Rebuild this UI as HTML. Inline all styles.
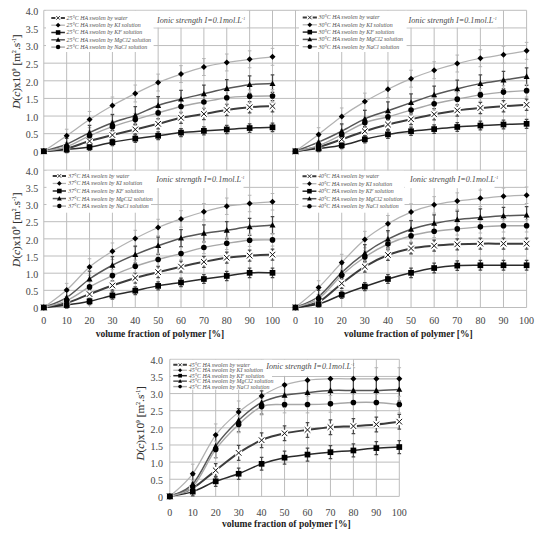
<!DOCTYPE html>
<html><head><meta charset="utf-8"><style>
html,body{margin:0;padding:0;background:#fff;width:550px;height:536px;overflow:hidden}
svg{display:block}
</style></head><body>
<svg width="550" height="536" viewBox="0 0 550 536">
<rect width="550" height="536" fill="#fff"/>
<line x1="43.8" y1="10.3" x2="526.6" y2="10.3" stroke="#bdbdbd" stroke-width="1"/>
<line x1="43.8" y1="27.93" x2="526.6" y2="27.93" stroke="#bdbdbd" stroke-width="1"/>
<line x1="43.8" y1="45.55" x2="526.6" y2="45.55" stroke="#bdbdbd" stroke-width="1"/>
<line x1="43.8" y1="63.17" x2="526.6" y2="63.17" stroke="#bdbdbd" stroke-width="1"/>
<line x1="43.8" y1="80.8" x2="526.6" y2="80.8" stroke="#bdbdbd" stroke-width="1"/>
<line x1="43.8" y1="98.42" x2="526.6" y2="98.42" stroke="#bdbdbd" stroke-width="1"/>
<line x1="43.8" y1="116.05" x2="526.6" y2="116.05" stroke="#bdbdbd" stroke-width="1"/>
<line x1="43.8" y1="133.68" x2="526.6" y2="133.68" stroke="#bdbdbd" stroke-width="1"/>
<line x1="43.8" y1="151.3" x2="526.6" y2="151.3" stroke="#bdbdbd" stroke-width="1"/>
<line x1="43.8" y1="170.2" x2="526.6" y2="170.2" stroke="#bdbdbd" stroke-width="1"/>
<line x1="43.8" y1="187.36" x2="526.6" y2="187.36" stroke="#bdbdbd" stroke-width="1"/>
<line x1="43.8" y1="204.52" x2="526.6" y2="204.52" stroke="#bdbdbd" stroke-width="1"/>
<line x1="43.8" y1="221.69" x2="526.6" y2="221.69" stroke="#bdbdbd" stroke-width="1"/>
<line x1="43.8" y1="238.85" x2="526.6" y2="238.85" stroke="#bdbdbd" stroke-width="1"/>
<line x1="43.8" y1="256.01" x2="526.6" y2="256.01" stroke="#bdbdbd" stroke-width="1"/>
<line x1="43.8" y1="273.18" x2="526.6" y2="273.18" stroke="#bdbdbd" stroke-width="1"/>
<line x1="43.8" y1="290.34" x2="526.6" y2="290.34" stroke="#bdbdbd" stroke-width="1"/>
<line x1="43.8" y1="307.5" x2="526.6" y2="307.5" stroke="#bdbdbd" stroke-width="1"/>
<line x1="43.8" y1="10.3" x2="43.8" y2="307.5" stroke="#bdbdbd" stroke-width="1"/>
<line x1="66.67" y1="10.3" x2="66.67" y2="307.5" stroke="#bdbdbd" stroke-width="1"/>
<line x1="89.54" y1="10.3" x2="89.54" y2="307.5" stroke="#bdbdbd" stroke-width="1"/>
<line x1="112.41" y1="10.3" x2="112.41" y2="307.5" stroke="#bdbdbd" stroke-width="1"/>
<line x1="135.28" y1="10.3" x2="135.28" y2="307.5" stroke="#bdbdbd" stroke-width="1"/>
<line x1="158.15" y1="10.3" x2="158.15" y2="307.5" stroke="#bdbdbd" stroke-width="1"/>
<line x1="181.02" y1="10.3" x2="181.02" y2="307.5" stroke="#bdbdbd" stroke-width="1"/>
<line x1="203.89" y1="10.3" x2="203.89" y2="307.5" stroke="#bdbdbd" stroke-width="1"/>
<line x1="226.76" y1="10.3" x2="226.76" y2="307.5" stroke="#bdbdbd" stroke-width="1"/>
<line x1="249.63" y1="10.3" x2="249.63" y2="307.5" stroke="#bdbdbd" stroke-width="1"/>
<line x1="272.5" y1="10.3" x2="272.5" y2="307.5" stroke="#bdbdbd" stroke-width="1"/>
<line x1="295.5" y1="10.3" x2="295.5" y2="307.5" stroke="#bdbdbd" stroke-width="1"/>
<line x1="318.61" y1="10.3" x2="318.61" y2="307.5" stroke="#bdbdbd" stroke-width="1"/>
<line x1="341.72" y1="10.3" x2="341.72" y2="307.5" stroke="#bdbdbd" stroke-width="1"/>
<line x1="364.83" y1="10.3" x2="364.83" y2="307.5" stroke="#bdbdbd" stroke-width="1"/>
<line x1="387.94" y1="10.3" x2="387.94" y2="307.5" stroke="#bdbdbd" stroke-width="1"/>
<line x1="411.05" y1="10.3" x2="411.05" y2="307.5" stroke="#bdbdbd" stroke-width="1"/>
<line x1="434.16" y1="10.3" x2="434.16" y2="307.5" stroke="#bdbdbd" stroke-width="1"/>
<line x1="457.27" y1="10.3" x2="457.27" y2="307.5" stroke="#bdbdbd" stroke-width="1"/>
<line x1="480.38" y1="10.3" x2="480.38" y2="307.5" stroke="#bdbdbd" stroke-width="1"/>
<line x1="503.49" y1="10.3" x2="503.49" y2="307.5" stroke="#bdbdbd" stroke-width="1"/>
<line x1="526.6" y1="10.3" x2="526.6" y2="307.5" stroke="#bdbdbd" stroke-width="1"/>
<line x1="169.8" y1="359.3" x2="399.3" y2="359.3" stroke="#bdbdbd" stroke-width="1"/>
<line x1="169.8" y1="376.44" x2="399.3" y2="376.44" stroke="#bdbdbd" stroke-width="1"/>
<line x1="169.8" y1="393.57" x2="399.3" y2="393.57" stroke="#bdbdbd" stroke-width="1"/>
<line x1="169.8" y1="410.71" x2="399.3" y2="410.71" stroke="#bdbdbd" stroke-width="1"/>
<line x1="169.8" y1="427.85" x2="399.3" y2="427.85" stroke="#bdbdbd" stroke-width="1"/>
<line x1="169.8" y1="444.99" x2="399.3" y2="444.99" stroke="#bdbdbd" stroke-width="1"/>
<line x1="169.8" y1="462.12" x2="399.3" y2="462.12" stroke="#bdbdbd" stroke-width="1"/>
<line x1="169.8" y1="479.26" x2="399.3" y2="479.26" stroke="#bdbdbd" stroke-width="1"/>
<line x1="169.8" y1="496.4" x2="399.3" y2="496.4" stroke="#bdbdbd" stroke-width="1"/>
<line x1="169.8" y1="359.3" x2="169.8" y2="496.4" stroke="#bdbdbd" stroke-width="1"/>
<line x1="192.75" y1="359.3" x2="192.75" y2="496.4" stroke="#bdbdbd" stroke-width="1"/>
<line x1="215.7" y1="359.3" x2="215.7" y2="496.4" stroke="#bdbdbd" stroke-width="1"/>
<line x1="238.65" y1="359.3" x2="238.65" y2="496.4" stroke="#bdbdbd" stroke-width="1"/>
<line x1="261.6" y1="359.3" x2="261.6" y2="496.4" stroke="#bdbdbd" stroke-width="1"/>
<line x1="284.55" y1="359.3" x2="284.55" y2="496.4" stroke="#bdbdbd" stroke-width="1"/>
<line x1="307.5" y1="359.3" x2="307.5" y2="496.4" stroke="#bdbdbd" stroke-width="1"/>
<line x1="330.45" y1="359.3" x2="330.45" y2="496.4" stroke="#bdbdbd" stroke-width="1"/>
<line x1="353.4" y1="359.3" x2="353.4" y2="496.4" stroke="#bdbdbd" stroke-width="1"/>
<line x1="376.35" y1="359.3" x2="376.35" y2="496.4" stroke="#bdbdbd" stroke-width="1"/>
<line x1="399.3" y1="359.3" x2="399.3" y2="496.4" stroke="#bdbdbd" stroke-width="1"/>
<path d="M43.8,151.3C47.61,150.83 59.05,150.18 66.67,148.48C74.29,146.78 81.92,143.31 89.54,141.08C97.16,138.85 104.79,137.02 112.41,135.09C120.03,133.15 127.66,131.33 135.28,129.45C142.9,127.57 150.53,125.74 158.15,123.81C165.77,121.87 173.4,119.46 181.02,117.81C188.64,116.17 196.27,115.23 203.89,113.94C211.51,112.64 219.14,111.17 226.76,110.06C234.38,108.94 242.01,107.88 249.63,107.24C257.25,106.59 268.69,106.36 272.5,106.18" fill="none" stroke="#3c3c3c" stroke-width="2.0"/>
<path d="M43.8,151.3C47.61,148.72 59.05,141.08 66.67,135.79C74.29,130.5 81.92,124.63 89.54,119.58C97.16,114.52 104.79,109.82 112.41,105.48C120.03,101.13 127.66,97.31 135.28,93.49C142.9,89.67 150.53,85.79 158.15,82.56C165.77,79.33 173.4,76.69 181.02,74.1C188.64,71.52 196.27,68.99 203.89,67.05C211.51,65.11 219.14,63.76 226.76,62.47C234.38,61.18 242.01,60.24 249.63,59.3C257.25,58.36 268.69,57.24 272.5,56.83" fill="none" stroke="#b2b2b2" stroke-width="1.25"/>
<path d="M43.8,151.3C47.61,151.01 59.05,150.24 66.67,149.54C74.29,148.83 81.92,148.3 89.54,147.07C97.16,145.84 104.79,143.55 112.41,142.14C120.03,140.73 127.66,139.67 135.28,138.61C142.9,137.55 150.53,136.79 158.15,135.79C165.77,134.79 173.4,133.44 181.02,132.62C188.64,131.8 196.27,131.38 203.89,130.86C211.51,130.33 219.14,129.92 226.76,129.45C234.38,128.98 242.01,128.39 249.63,128.04C257.25,127.68 268.69,127.45 272.5,127.33" fill="none" stroke="#2a2a2a" stroke-width="1.5"/>
<path d="M43.8,151.3C47.61,150.12 59.05,147.36 66.67,144.25C74.29,141.14 81.92,136.2 89.54,132.62C97.16,129.03 104.79,125.63 112.41,122.75C120.03,119.87 127.66,118.22 135.28,115.35C142.9,112.47 150.53,108.18 158.15,105.48C165.77,102.77 173.4,101.07 181.02,99.13C188.64,97.19 196.27,95.61 203.89,93.84C211.51,92.08 219.14,90.08 226.76,88.56C234.38,87.03 242.01,85.5 249.63,84.68C257.25,83.86 268.69,83.8 272.5,83.62" fill="none" stroke="#575757" stroke-width="1.5"/>
<path d="M43.8,151.3C47.61,150.54 59.05,149.3 66.67,146.72C74.29,144.13 81.92,139.14 89.54,135.79C97.16,132.44 104.79,129.33 112.41,126.63C120.03,123.92 127.66,121.87 135.28,119.58C142.9,117.28 150.53,115.05 158.15,112.88C165.77,110.7 173.4,108.35 181.02,106.53C188.64,104.71 196.27,103.42 203.89,101.95C211.51,100.48 219.14,98.66 226.76,97.72C234.38,96.78 242.01,96.6 249.63,96.31C257.25,96.02 268.69,96.02 272.5,95.96" fill="none" stroke="#a8a8a8" stroke-width="1.4"/>
<path d="M66.67,144.92V152.04M64.87,144.92H68.47M64.87,152.04H68.47" stroke="#4a4a4a" stroke-width="1.25" fill="none"/>
<path d="M89.54,137.04V145.12M87.74,137.04H91.34M87.74,145.12H91.34" stroke="#4a4a4a" stroke-width="1.25" fill="none"/>
<path d="M112.41,130.66V139.51M110.61,130.66H114.21M110.61,139.51H114.21" stroke="#4a4a4a" stroke-width="1.25" fill="none"/>
<path d="M135.28,124.66V134.23M133.48,124.66H137.08M133.48,134.23H137.08" stroke="#4a4a4a" stroke-width="1.25" fill="none"/>
<path d="M158.15,118.66V128.95M156.35,118.66H159.95M156.35,128.95H159.95" stroke="#4a4a4a" stroke-width="1.25" fill="none"/>
<path d="M181.02,112.29V123.34M179.22,112.29H182.82M179.22,123.34H182.82" stroke="#4a4a4a" stroke-width="1.25" fill="none"/>
<path d="M203.89,108.3V119.58M202.09,108.3H205.69M202.09,119.58H205.69" stroke="#4a4a4a" stroke-width="1.25" fill="none"/>
<path d="M226.76,104.42V115.7M224.96,104.42H228.56M224.96,115.7H228.56" stroke="#4a4a4a" stroke-width="1.25" fill="none"/>
<path d="M249.63,101.6V112.88M247.83,101.6H251.43M247.83,112.88H251.43" stroke="#4a4a4a" stroke-width="1.25" fill="none"/>
<path d="M272.5,100.54V111.82M270.7,100.54H274.3M270.7,111.82H274.3" stroke="#4a4a4a" stroke-width="1.25" fill="none"/>
<path d="M66.67,129.23V142.35M64.87,129.23H68.47M64.87,142.35H68.47" stroke="#b4b4b4" stroke-width="1.0" fill="none"/>
<path d="M89.54,111.45V127.7M87.74,111.45H91.34M87.74,127.7H91.34" stroke="#b4b4b4" stroke-width="1.0" fill="none"/>
<path d="M112.41,97.02V113.94M110.61,97.02H114.21M110.61,113.94H114.21" stroke="#b4b4b4" stroke-width="1.0" fill="none"/>
<path d="M135.28,85.03V101.95M133.48,85.03H137.08M133.48,101.95H137.08" stroke="#b4b4b4" stroke-width="1.0" fill="none"/>
<path d="M158.15,74.1V91.02M156.35,74.1H159.95M156.35,91.02H159.95" stroke="#b4b4b4" stroke-width="1.0" fill="none"/>
<path d="M181.02,65.64V82.56M179.22,65.64H182.82M179.22,82.56H182.82" stroke="#b4b4b4" stroke-width="1.0" fill="none"/>
<path d="M203.89,58.59V75.51M202.09,58.59H205.69M202.09,75.51H205.69" stroke="#b4b4b4" stroke-width="1.0" fill="none"/>
<path d="M226.76,54.01V70.93M224.96,54.01H228.56M224.96,70.93H228.56" stroke="#b4b4b4" stroke-width="1.0" fill="none"/>
<path d="M249.63,50.84V67.76M247.83,50.84H251.43M247.83,67.76H251.43" stroke="#b4b4b4" stroke-width="1.0" fill="none"/>
<path d="M272.5,48.37V65.29M270.7,48.37H274.3M270.7,65.29H274.3" stroke="#b4b4b4" stroke-width="1.0" fill="none"/>
<path d="M66.67,146.48V152.6M64.87,146.48H68.47M64.87,152.6H68.47" stroke="#4a4a4a" stroke-width="1.25" fill="none"/>
<path d="M89.54,143.87V150.27M87.74,143.87H91.34M87.74,150.27H91.34" stroke="#4a4a4a" stroke-width="1.25" fill="none"/>
<path d="M112.41,138.66V145.61M110.61,138.66H114.21M110.61,145.61H114.21" stroke="#4a4a4a" stroke-width="1.25" fill="none"/>
<path d="M135.28,134.94V142.28M133.48,134.94H137.08M133.48,142.28H137.08" stroke="#4a4a4a" stroke-width="1.25" fill="none"/>
<path d="M158.15,131.96V139.62M156.35,131.96H159.95M156.35,139.62H159.95" stroke="#4a4a4a" stroke-width="1.25" fill="none"/>
<path d="M181.02,128.61V136.62M179.22,128.61H182.82M179.22,136.62H182.82" stroke="#4a4a4a" stroke-width="1.25" fill="none"/>
<path d="M203.89,126.75V134.96M202.09,126.75H205.69M202.09,134.96H205.69" stroke="#4a4a4a" stroke-width="1.25" fill="none"/>
<path d="M226.76,125.26V133.63M224.96,125.26H228.56M224.96,133.63H228.56" stroke="#4a4a4a" stroke-width="1.25" fill="none"/>
<path d="M249.63,123.77V132.3M247.83,123.77H251.43M247.83,132.3H251.43" stroke="#4a4a4a" stroke-width="1.25" fill="none"/>
<path d="M272.5,123.03V131.63M270.7,123.03H274.3M270.7,131.63H274.3" stroke="#4a4a4a" stroke-width="1.25" fill="none"/>
<path d="M66.67,138.26V150.24M64.87,138.26H68.47M64.87,150.24H68.47" stroke="#4a4a4a" stroke-width="1.25" fill="none"/>
<path d="M89.54,125.46V139.77M87.74,125.46H91.34M87.74,139.77H91.34" stroke="#4a4a4a" stroke-width="1.25" fill="none"/>
<path d="M112.41,114.6V130.89M110.61,114.6H114.21M110.61,130.89H114.21" stroke="#4a4a4a" stroke-width="1.25" fill="none"/>
<path d="M135.28,106.53V124.16M133.48,106.53H137.08M133.48,124.16H137.08" stroke="#4a4a4a" stroke-width="1.25" fill="none"/>
<path d="M158.15,96.66V114.29M156.35,96.66H159.95M156.35,114.29H159.95" stroke="#4a4a4a" stroke-width="1.25" fill="none"/>
<path d="M181.02,90.32V107.94M179.22,90.32H182.82M179.22,107.94H182.82" stroke="#4a4a4a" stroke-width="1.25" fill="none"/>
<path d="M203.89,85.03V102.66M202.09,85.03H205.69M202.09,102.66H205.69" stroke="#4a4a4a" stroke-width="1.25" fill="none"/>
<path d="M226.76,79.74V97.37M224.96,79.74H228.56M224.96,97.37H228.56" stroke="#4a4a4a" stroke-width="1.25" fill="none"/>
<path d="M249.63,75.87V93.49M247.83,75.87H251.43M247.83,93.49H251.43" stroke="#4a4a4a" stroke-width="1.25" fill="none"/>
<path d="M272.5,74.81V92.43M270.7,74.81H274.3M270.7,92.43H274.3" stroke="#4a4a4a" stroke-width="1.25" fill="none"/>
<path d="M66.67,142.58V150.85M64.87,142.58H68.47M64.87,150.85H68.47" stroke="#b4b4b4" stroke-width="1.0" fill="none"/>
<path d="M89.54,130.87V140.71M87.74,130.87H91.34M87.74,140.71H91.34" stroke="#b4b4b4" stroke-width="1.0" fill="none"/>
<path d="M112.41,121.04V132.21M110.61,121.04H114.21M110.61,132.21H114.21" stroke="#b4b4b4" stroke-width="1.0" fill="none"/>
<path d="M135.28,113.48V125.67M133.48,113.48H137.08M133.48,125.67H137.08" stroke="#b4b4b4" stroke-width="1.0" fill="none"/>
<path d="M158.15,106.53V119.22M156.35,106.53H159.95M156.35,119.22H159.95" stroke="#b4b4b4" stroke-width="1.0" fill="none"/>
<path d="M181.02,100.19V112.88M179.22,100.19H182.82M179.22,112.88H182.82" stroke="#b4b4b4" stroke-width="1.0" fill="none"/>
<path d="M203.89,95.61V108.3M202.09,95.61H205.69M202.09,108.3H205.69" stroke="#b4b4b4" stroke-width="1.0" fill="none"/>
<path d="M226.76,91.38V104.07M224.96,91.38H228.56M224.96,104.07H228.56" stroke="#b4b4b4" stroke-width="1.0" fill="none"/>
<path d="M249.63,89.97V102.66M247.83,89.97H251.43M247.83,102.66H251.43" stroke="#b4b4b4" stroke-width="1.0" fill="none"/>
<path d="M272.5,89.61V102.3M270.7,89.61H274.3M270.7,102.3H274.3" stroke="#b4b4b4" stroke-width="1.0" fill="none"/>
<rect x="40.3" y="147.8" width="7" height="7" fill="#fff"/><path d="M41,148.5L46.6,154.1M41,154.1L46.6,148.5" stroke="#111" stroke-width="1.0" fill="none"/>
<rect x="63.17" y="144.98" width="7" height="7" fill="#fff"/><path d="M63.87,145.68L69.47,151.28M63.87,151.28L69.47,145.68" stroke="#111" stroke-width="1.0" fill="none"/>
<rect x="86.04" y="137.58" width="7" height="7" fill="#fff"/><path d="M86.74,138.28L92.34,143.88M86.74,143.88L92.34,138.28" stroke="#111" stroke-width="1.0" fill="none"/>
<rect x="108.91" y="131.59" width="7" height="7" fill="#fff"/><path d="M109.61,132.28L115.21,137.89M109.61,137.89L115.21,132.28" stroke="#111" stroke-width="1.0" fill="none"/>
<rect x="131.78" y="125.95" width="7" height="7" fill="#fff"/><path d="M132.48,126.65L138.08,132.25M132.48,132.25L138.08,126.65" stroke="#111" stroke-width="1.0" fill="none"/>
<rect x="154.65" y="120.31" width="7" height="7" fill="#fff"/><path d="M155.35,121.01L160.95,126.61M155.35,126.61L160.95,121.01" stroke="#111" stroke-width="1.0" fill="none"/>
<rect x="177.52" y="114.31" width="7" height="7" fill="#fff"/><path d="M178.22,115.01L183.82,120.61M178.22,120.61L183.82,115.01" stroke="#111" stroke-width="1.0" fill="none"/>
<rect x="200.39" y="110.44" width="7" height="7" fill="#fff"/><path d="M201.09,111.14L206.69,116.73M201.09,116.73L206.69,111.14" stroke="#111" stroke-width="1.0" fill="none"/>
<rect x="223.26" y="106.56" width="7" height="7" fill="#fff"/><path d="M223.96,107.26L229.56,112.86M223.96,112.86L229.56,107.26" stroke="#111" stroke-width="1.0" fill="none"/>
<rect x="246.13" y="103.74" width="7" height="7" fill="#fff"/><path d="M246.83,104.44L252.43,110.04M246.83,110.04L252.43,104.44" stroke="#111" stroke-width="1.0" fill="none"/>
<rect x="269" y="102.68" width="7" height="7" fill="#fff"/><path d="M269.7,103.38L275.3,108.98M269.7,108.98L275.3,103.38" stroke="#111" stroke-width="1.0" fill="none"/>
<path d="M43.8,148.3L46.8,151.3L43.8,154.3L40.8,151.3Z" fill="#000"/>
<path d="M66.67,132.79L69.67,135.79L66.67,138.79L63.67,135.79Z" fill="#000"/>
<path d="M89.54,116.58L92.54,119.58L89.54,122.58L86.54,119.58Z" fill="#000"/>
<path d="M112.41,102.48L115.41,105.48L112.41,108.48L109.41,105.48Z" fill="#000"/>
<path d="M135.28,90.49L138.28,93.49L135.28,96.49L132.28,93.49Z" fill="#000"/>
<path d="M158.15,79.56L161.15,82.56L158.15,85.56L155.15,82.56Z" fill="#000"/>
<path d="M181.02,71.1L184.02,74.1L181.02,77.1L178.02,74.1Z" fill="#000"/>
<path d="M203.89,64.05L206.89,67.05L203.89,70.05L200.89,67.05Z" fill="#000"/>
<path d="M226.76,59.47L229.76,62.47L226.76,65.47L223.76,62.47Z" fill="#000"/>
<path d="M249.63,56.3L252.63,59.3L249.63,62.3L246.63,59.3Z" fill="#000"/>
<path d="M272.5,53.83L275.5,56.83L272.5,59.83L269.5,56.83Z" fill="#000"/>
<rect x="40.95" y="148.45" width="5.7" height="5.7" fill="#000"/>
<rect x="63.82" y="146.69" width="5.7" height="5.7" fill="#000"/>
<rect x="86.69" y="144.22" width="5.7" height="5.7" fill="#000"/>
<rect x="109.56" y="139.29" width="5.7" height="5.7" fill="#000"/>
<rect x="132.43" y="135.76" width="5.7" height="5.7" fill="#000"/>
<rect x="155.3" y="132.94" width="5.7" height="5.7" fill="#000"/>
<rect x="178.17" y="129.77" width="5.7" height="5.7" fill="#000"/>
<rect x="201.04" y="128.01" width="5.7" height="5.7" fill="#000"/>
<rect x="223.91" y="126.6" width="5.7" height="5.7" fill="#000"/>
<rect x="246.78" y="125.19" width="5.7" height="5.7" fill="#000"/>
<rect x="269.65" y="124.48" width="5.7" height="5.7" fill="#000"/>
<path d="M43.8,148.1L46.8,153.7L40.8,153.7Z" fill="#000"/>
<path d="M66.67,141.05L69.67,146.65L63.67,146.65Z" fill="#000"/>
<path d="M89.54,129.42L92.54,135.02L86.54,135.02Z" fill="#000"/>
<path d="M112.41,119.55L115.41,125.15L109.41,125.15Z" fill="#000"/>
<path d="M135.28,112.15L138.28,117.75L132.28,117.75Z" fill="#000"/>
<path d="M158.15,102.28L161.15,107.88L155.15,107.88Z" fill="#000"/>
<path d="M181.02,95.93L184.02,101.53L178.02,101.53Z" fill="#000"/>
<path d="M203.89,90.64L206.89,96.24L200.89,96.24Z" fill="#000"/>
<path d="M226.76,85.36L229.76,90.96L223.76,90.96Z" fill="#000"/>
<path d="M249.63,81.48L252.63,87.08L246.63,87.08Z" fill="#000"/>
<path d="M272.5,80.42L275.5,86.02L269.5,86.02Z" fill="#000"/>
<circle cx="43.8" cy="151.3" r="2.8" fill="#000"/>
<circle cx="66.67" cy="146.72" r="2.8" fill="#000"/>
<circle cx="89.54" cy="135.79" r="2.8" fill="#000"/>
<circle cx="112.41" cy="126.63" r="2.8" fill="#000"/>
<circle cx="135.28" cy="119.58" r="2.8" fill="#000"/>
<circle cx="158.15" cy="112.88" r="2.8" fill="#000"/>
<circle cx="181.02" cy="106.53" r="2.8" fill="#000"/>
<circle cx="203.89" cy="101.95" r="2.8" fill="#000"/>
<circle cx="226.76" cy="97.72" r="2.8" fill="#000"/>
<circle cx="249.63" cy="96.31" r="2.8" fill="#000"/>
<circle cx="272.5" cy="95.96" r="2.8" fill="#000"/>
<path d="M295.5,151.3C299.35,150.6 310.91,149.07 318.61,147.07C326.31,145.07 334.02,141.96 341.72,139.31C349.42,136.67 357.13,133.68 364.83,131.21C372.53,128.74 380.24,126.51 387.94,124.51C395.64,122.51 403.35,120.93 411.05,119.22C418.75,117.52 426.46,115.76 434.16,114.29C441.86,112.82 449.57,111.47 457.27,110.41C464.97,109.35 472.68,108.65 480.38,107.94C488.08,107.24 495.79,106.71 503.49,106.18C511.19,105.65 522.75,105.01 526.6,104.77" fill="none" stroke="#3c3c3c" stroke-width="2.0"/>
<path d="M295.5,151.3C299.35,148.48 310.91,140.2 318.61,134.38C326.31,128.56 334.02,121.87 341.72,116.4C349.42,110.94 357.13,106.12 364.83,101.6C372.53,97.07 380.24,93.08 387.94,89.26C395.64,85.44 403.35,81.86 411.05,78.69C418.75,75.51 426.46,72.75 434.16,70.23C441.86,67.7 449.57,65.53 457.27,63.53C464.97,61.53 472.68,59.71 480.38,58.24C488.08,56.77 495.79,55.95 503.49,54.72C511.19,53.48 522.75,51.48 526.6,50.84" fill="none" stroke="#b2b2b2" stroke-width="1.25"/>
<path d="M295.5,151.3C299.35,150.83 310.91,149.48 318.61,148.48C326.31,147.48 334.02,146.84 341.72,145.31C349.42,143.78 357.13,141.14 364.83,139.31C372.53,137.49 380.24,135.73 387.94,134.38C395.64,133.03 403.35,132.09 411.05,131.21C418.75,130.33 426.46,129.8 434.16,129.09C441.86,128.39 449.57,127.57 457.27,126.98C464.97,126.39 472.68,125.98 480.38,125.57C488.08,125.16 495.79,124.8 503.49,124.51C511.19,124.22 522.75,123.92 526.6,123.81" fill="none" stroke="#2a2a2a" stroke-width="1.5"/>
<path d="M295.5,151.3C299.35,149.77 310.91,145.48 318.61,142.14C326.31,138.79 334.02,135.09 341.72,131.21C349.42,127.33 357.13,122.28 364.83,118.87C372.53,115.46 380.24,113.47 387.94,110.76C395.64,108.06 403.35,105.3 411.05,102.66C418.75,100.01 426.46,97.19 434.16,94.9C441.86,92.61 449.57,90.79 457.27,88.91C464.97,87.03 472.68,85.09 480.38,83.62C488.08,82.15 495.79,81.27 503.49,80.1C511.19,78.92 522.75,77.16 526.6,76.57" fill="none" stroke="#575757" stroke-width="1.5"/>
<path d="M295.5,151.3C299.35,150.36 310.91,148.42 318.61,145.66C326.31,142.9 334.02,138.55 341.72,134.73C349.42,130.91 357.13,125.74 364.83,122.75C372.53,119.75 380.24,118.87 387.94,116.76C395.64,114.64 403.35,112.23 411.05,110.06C418.75,107.88 426.46,105.53 434.16,103.71C441.86,101.89 449.57,100.6 457.27,99.13C464.97,97.66 472.68,96.08 480.38,94.9C488.08,93.73 495.79,92.79 503.49,92.08C511.19,91.38 522.75,90.91 526.6,90.67" fill="none" stroke="#a8a8a8" stroke-width="1.4"/>
<path d="M318.61,143.42V150.72M316.81,143.42H320.41M316.81,150.72H320.41" stroke="#4a4a4a" stroke-width="1.25" fill="none"/>
<path d="M341.72,135.16V143.47M339.92,135.16H343.52M339.92,143.47H343.52" stroke="#4a4a4a" stroke-width="1.25" fill="none"/>
<path d="M364.83,126.54V135.88M363.03,126.54H366.63M363.03,135.88H366.63" stroke="#4a4a4a" stroke-width="1.25" fill="none"/>
<path d="M387.94,119.41V129.61M386.14,119.41H389.74M386.14,129.61H389.74" stroke="#4a4a4a" stroke-width="1.25" fill="none"/>
<path d="M411.05,113.79V124.66M409.25,113.79H412.85M409.25,124.66H412.85" stroke="#4a4a4a" stroke-width="1.25" fill="none"/>
<path d="M434.16,108.65V119.93M432.36,108.65H435.96M432.36,119.93H435.96" stroke="#4a4a4a" stroke-width="1.25" fill="none"/>
<path d="M457.27,104.77V116.05M455.47,104.77H459.07M455.47,116.05H459.07" stroke="#4a4a4a" stroke-width="1.25" fill="none"/>
<path d="M480.38,102.3V113.58M478.58,102.3H482.18M478.58,113.58H482.18" stroke="#4a4a4a" stroke-width="1.25" fill="none"/>
<path d="M503.49,100.54V111.82M501.69,100.54H505.29M501.69,111.82H505.29" stroke="#4a4a4a" stroke-width="1.25" fill="none"/>
<path d="M526.6,99.13V110.41M524.8,99.13H528.4M524.8,110.41H528.4" stroke="#4a4a4a" stroke-width="1.25" fill="none"/>
<path d="M318.61,127.68V141.08M316.81,127.68H320.41M316.81,141.08H320.41" stroke="#b4b4b4" stroke-width="1.0" fill="none"/>
<path d="M341.72,107.98V124.83M339.92,107.98H343.52M339.92,124.83H343.52" stroke="#b4b4b4" stroke-width="1.0" fill="none"/>
<path d="M364.83,93.14V110.06M363.03,93.14H366.63M363.03,110.06H366.63" stroke="#b4b4b4" stroke-width="1.0" fill="none"/>
<path d="M387.94,80.8V97.72M386.14,80.8H389.74M386.14,97.72H389.74" stroke="#b4b4b4" stroke-width="1.0" fill="none"/>
<path d="M411.05,70.23V87.15M409.25,70.23H412.85M409.25,87.15H412.85" stroke="#b4b4b4" stroke-width="1.0" fill="none"/>
<path d="M434.16,61.77V78.69M432.36,61.77H435.96M432.36,78.69H435.96" stroke="#b4b4b4" stroke-width="1.0" fill="none"/>
<path d="M457.27,55.07V71.99M455.47,55.07H459.07M455.47,71.99H459.07" stroke="#b4b4b4" stroke-width="1.0" fill="none"/>
<path d="M480.38,49.78V66.7M478.58,49.78H482.18M478.58,66.7H482.18" stroke="#b4b4b4" stroke-width="1.0" fill="none"/>
<path d="M503.49,46.25V63.18M501.69,46.25H505.29M501.69,63.18H505.29" stroke="#b4b4b4" stroke-width="1.0" fill="none"/>
<path d="M526.6,42.38V59.3M524.8,42.38H528.4M524.8,59.3H528.4" stroke="#b4b4b4" stroke-width="1.0" fill="none"/>
<path d="M318.61,145.36V151.6M316.81,145.36H320.41M316.81,151.6H320.41" stroke="#4a4a4a" stroke-width="1.25" fill="none"/>
<path d="M341.72,142.01V148.6M339.92,142.01H343.52M339.92,148.6H343.52" stroke="#4a4a4a" stroke-width="1.25" fill="none"/>
<path d="M364.83,135.68V142.95M363.03,135.68H366.63M363.03,142.95H366.63" stroke="#4a4a4a" stroke-width="1.25" fill="none"/>
<path d="M387.94,130.47V138.29M386.14,130.47H389.74M386.14,138.29H389.74" stroke="#4a4a4a" stroke-width="1.25" fill="none"/>
<path d="M411.05,127.12V135.29M409.25,127.12H412.85M409.25,135.29H412.85" stroke="#4a4a4a" stroke-width="1.25" fill="none"/>
<path d="M434.16,124.89V133.3M432.36,124.89H435.96M432.36,133.3H435.96" stroke="#4a4a4a" stroke-width="1.25" fill="none"/>
<path d="M457.27,122.65V131.3M455.47,122.65H459.07M455.47,131.3H459.07" stroke="#4a4a4a" stroke-width="1.25" fill="none"/>
<path d="M480.38,121.17V129.97M478.58,121.17H482.18M478.58,129.97H482.18" stroke="#4a4a4a" stroke-width="1.25" fill="none"/>
<path d="M503.49,120.05V128.97M501.69,120.05H505.29M501.69,128.97H505.29" stroke="#4a4a4a" stroke-width="1.25" fill="none"/>
<path d="M526.6,119.3V128.31M524.8,119.3H528.4M524.8,128.31H528.4" stroke="#4a4a4a" stroke-width="1.25" fill="none"/>
<path d="M318.61,135.93V148.34M316.81,135.93H320.41M316.81,148.34H320.41" stroke="#4a4a4a" stroke-width="1.25" fill="none"/>
<path d="M341.72,123.91V138.5M339.92,123.91H343.52M339.92,138.5H343.52" stroke="#4a4a4a" stroke-width="1.25" fill="none"/>
<path d="M364.83,110.34V127.4M363.03,110.34H366.63M363.03,127.4H366.63" stroke="#4a4a4a" stroke-width="1.25" fill="none"/>
<path d="M387.94,101.95V119.58M386.14,101.95H389.74M386.14,119.58H389.74" stroke="#4a4a4a" stroke-width="1.25" fill="none"/>
<path d="M411.05,93.84V111.47M409.25,93.84H412.85M409.25,111.47H412.85" stroke="#4a4a4a" stroke-width="1.25" fill="none"/>
<path d="M434.16,86.09V103.71M432.36,86.09H435.96M432.36,103.71H435.96" stroke="#4a4a4a" stroke-width="1.25" fill="none"/>
<path d="M457.27,80.1V97.72M455.47,80.1H459.07M455.47,97.72H459.07" stroke="#4a4a4a" stroke-width="1.25" fill="none"/>
<path d="M480.38,74.81V92.43M478.58,74.81H482.18M478.58,92.43H482.18" stroke="#4a4a4a" stroke-width="1.25" fill="none"/>
<path d="M503.49,71.28V88.91M501.69,71.28H505.29M501.69,88.91H505.29" stroke="#4a4a4a" stroke-width="1.25" fill="none"/>
<path d="M526.6,67.76V85.38M524.8,67.76H528.4M524.8,85.38H528.4" stroke="#4a4a4a" stroke-width="1.25" fill="none"/>
<path d="M318.61,141.45V149.87M316.81,141.45H320.41M316.81,149.87H320.41" stroke="#b4b4b4" stroke-width="1.0" fill="none"/>
<path d="M341.72,129.73V139.73M339.92,129.73H343.52M339.92,139.73H343.52" stroke="#b4b4b4" stroke-width="1.0" fill="none"/>
<path d="M364.83,116.88V128.61M363.03,116.88H366.63M363.03,128.61H366.63" stroke="#b4b4b4" stroke-width="1.0" fill="none"/>
<path d="M387.94,110.46V123.05M386.14,110.46H389.74M386.14,123.05H389.74" stroke="#b4b4b4" stroke-width="1.0" fill="none"/>
<path d="M411.05,103.71V116.4M409.25,103.71H412.85M409.25,116.4H412.85" stroke="#b4b4b4" stroke-width="1.0" fill="none"/>
<path d="M434.16,97.37V110.06M432.36,97.37H435.96M432.36,110.06H435.96" stroke="#b4b4b4" stroke-width="1.0" fill="none"/>
<path d="M457.27,92.79V105.48M455.47,92.79H459.07M455.47,105.48H459.07" stroke="#b4b4b4" stroke-width="1.0" fill="none"/>
<path d="M480.38,88.56V101.25M478.58,88.56H482.18M478.58,101.25H482.18" stroke="#b4b4b4" stroke-width="1.0" fill="none"/>
<path d="M503.49,85.74V98.43M501.69,85.74H505.29M501.69,98.43H505.29" stroke="#b4b4b4" stroke-width="1.0" fill="none"/>
<path d="M526.6,84.33V97.02M524.8,84.33H528.4M524.8,97.02H528.4" stroke="#b4b4b4" stroke-width="1.0" fill="none"/>
<rect x="292" y="147.8" width="7" height="7" fill="#fff"/><path d="M292.7,148.5L298.3,154.1M292.7,154.1L298.3,148.5" stroke="#111" stroke-width="1.0" fill="none"/>
<rect x="315.11" y="143.57" width="7" height="7" fill="#fff"/><path d="M315.81,144.27L321.41,149.87M315.81,149.87L321.41,144.27" stroke="#111" stroke-width="1.0" fill="none"/>
<rect x="338.22" y="135.81" width="7" height="7" fill="#fff"/><path d="M338.92,136.51L344.52,142.12M338.92,142.12L344.52,136.51" stroke="#111" stroke-width="1.0" fill="none"/>
<rect x="361.33" y="127.71" width="7" height="7" fill="#fff"/><path d="M362.03,128.41L367.63,134.01M362.03,134.01L367.63,128.41" stroke="#111" stroke-width="1.0" fill="none"/>
<rect x="384.44" y="121.01" width="7" height="7" fill="#fff"/><path d="M385.14,121.71L390.74,127.31M385.14,127.31L390.74,121.71" stroke="#111" stroke-width="1.0" fill="none"/>
<rect x="407.55" y="115.72" width="7" height="7" fill="#fff"/><path d="M408.25,116.42L413.85,122.02M408.25,122.02L413.85,116.42" stroke="#111" stroke-width="1.0" fill="none"/>
<rect x="430.66" y="110.79" width="7" height="7" fill="#fff"/><path d="M431.36,111.49L436.96,117.09M431.36,117.09L436.96,111.49" stroke="#111" stroke-width="1.0" fill="none"/>
<rect x="453.77" y="106.91" width="7" height="7" fill="#fff"/><path d="M454.47,107.61L460.07,113.21M454.47,113.21L460.07,107.61" stroke="#111" stroke-width="1.0" fill="none"/>
<rect x="476.88" y="104.44" width="7" height="7" fill="#fff"/><path d="M477.58,105.14L483.18,110.74M477.58,110.74L483.18,105.14" stroke="#111" stroke-width="1.0" fill="none"/>
<rect x="499.99" y="102.68" width="7" height="7" fill="#fff"/><path d="M500.69,103.38L506.29,108.98M500.69,108.98L506.29,103.38" stroke="#111" stroke-width="1.0" fill="none"/>
<rect x="523.1" y="101.27" width="7" height="7" fill="#fff"/><path d="M523.8,101.97L529.4,107.57M523.8,107.57L529.4,101.97" stroke="#111" stroke-width="1.0" fill="none"/>
<path d="M295.5,148.3L298.5,151.3L295.5,154.3L292.5,151.3Z" fill="#000"/>
<path d="M318.61,131.38L321.61,134.38L318.61,137.38L315.61,134.38Z" fill="#000"/>
<path d="M341.72,113.4L344.72,116.4L341.72,119.4L338.72,116.4Z" fill="#000"/>
<path d="M364.83,98.6L367.83,101.6L364.83,104.6L361.83,101.6Z" fill="#000"/>
<path d="M387.94,86.26L390.94,89.26L387.94,92.26L384.94,89.26Z" fill="#000"/>
<path d="M411.05,75.69L414.05,78.69L411.05,81.69L408.05,78.69Z" fill="#000"/>
<path d="M434.16,67.23L437.16,70.23L434.16,73.23L431.16,70.23Z" fill="#000"/>
<path d="M457.27,60.53L460.27,63.53L457.27,66.53L454.27,63.53Z" fill="#000"/>
<path d="M480.38,55.24L483.38,58.24L480.38,61.24L477.38,58.24Z" fill="#000"/>
<path d="M503.49,51.72L506.49,54.72L503.49,57.72L500.49,54.72Z" fill="#000"/>
<path d="M526.6,47.84L529.6,50.84L526.6,53.84L523.6,50.84Z" fill="#000"/>
<rect x="292.65" y="148.45" width="5.7" height="5.7" fill="#000"/>
<rect x="315.76" y="145.63" width="5.7" height="5.7" fill="#000"/>
<rect x="338.87" y="142.46" width="5.7" height="5.7" fill="#000"/>
<rect x="361.98" y="136.47" width="5.7" height="5.7" fill="#000"/>
<rect x="385.09" y="131.53" width="5.7" height="5.7" fill="#000"/>
<rect x="408.2" y="128.36" width="5.7" height="5.7" fill="#000"/>
<rect x="431.31" y="126.24" width="5.7" height="5.7" fill="#000"/>
<rect x="454.42" y="124.13" width="5.7" height="5.7" fill="#000"/>
<rect x="477.53" y="122.72" width="5.7" height="5.7" fill="#000"/>
<rect x="500.64" y="121.66" width="5.7" height="5.7" fill="#000"/>
<rect x="523.75" y="120.96" width="5.7" height="5.7" fill="#000"/>
<path d="M295.5,148.1L298.5,153.7L292.5,153.7Z" fill="#000"/>
<path d="M318.61,138.94L321.61,144.54L315.61,144.54Z" fill="#000"/>
<path d="M341.72,128.01L344.72,133.61L338.72,133.61Z" fill="#000"/>
<path d="M364.83,115.67L367.83,121.27L361.83,121.27Z" fill="#000"/>
<path d="M387.94,107.56L390.94,113.16L384.94,113.16Z" fill="#000"/>
<path d="M411.05,99.46L414.05,105.06L408.05,105.06Z" fill="#000"/>
<path d="M434.16,91.7L437.16,97.3L431.16,97.3Z" fill="#000"/>
<path d="M457.27,85.71L460.27,91.31L454.27,91.31Z" fill="#000"/>
<path d="M480.38,80.42L483.38,86.02L477.38,86.02Z" fill="#000"/>
<path d="M503.49,76.9L506.49,82.5L500.49,82.5Z" fill="#000"/>
<path d="M526.6,73.37L529.6,78.97L523.6,78.97Z" fill="#000"/>
<circle cx="295.5" cy="151.3" r="2.8" fill="#000"/>
<circle cx="318.61" cy="145.66" r="2.8" fill="#000"/>
<circle cx="341.72" cy="134.73" r="2.8" fill="#000"/>
<circle cx="364.83" cy="122.75" r="2.8" fill="#000"/>
<circle cx="387.94" cy="116.76" r="2.8" fill="#000"/>
<circle cx="411.05" cy="110.06" r="2.8" fill="#000"/>
<circle cx="434.16" cy="103.71" r="2.8" fill="#000"/>
<circle cx="457.27" cy="99.13" r="2.8" fill="#000"/>
<circle cx="480.38" cy="94.9" r="2.8" fill="#000"/>
<circle cx="503.49" cy="92.08" r="2.8" fill="#000"/>
<circle cx="526.6" cy="90.67" r="2.8" fill="#000"/>
<path d="M43.8,307.5C47.61,306.76 59.05,305.27 66.67,303.04C74.29,300.81 81.92,297.03 89.54,294.11C97.16,291.2 104.79,288.22 112.41,285.53C120.03,282.84 127.66,280.21 135.28,277.98C142.9,275.75 150.53,274.03 158.15,272.15C165.77,270.26 173.4,268.37 181.02,266.65C188.64,264.94 196.27,263.34 203.89,261.85C211.51,260.36 219.14,258.76 226.76,257.73C234.38,256.7 242.01,256.18 249.63,255.67C257.25,255.15 268.69,254.81 272.5,254.64" fill="none" stroke="#3c3c3c" stroke-width="2.0"/>
<path d="M43.8,307.5C47.61,304.58 59.05,296.74 66.67,289.99C74.29,283.24 81.92,273.46 89.54,267C97.16,260.53 104.79,255.96 112.41,251.21C120.03,246.46 127.66,242.45 135.28,238.51C142.9,234.56 150.53,230.78 158.15,227.52C165.77,224.26 173.4,221.57 181.02,218.94C188.64,216.31 196.27,213.85 203.89,211.73C211.51,209.62 219.14,207.61 226.76,206.24C234.38,204.87 242.01,204.24 249.63,203.5C257.25,202.75 268.69,202.07 272.5,201.78" fill="none" stroke="#b2b2b2" stroke-width="1.25"/>
<path d="M43.8,307.5C47.61,307.1 59.05,306.13 66.67,305.1C74.29,304.07 81.92,302.92 89.54,301.32C97.16,299.72 104.79,297.26 112.41,295.49C120.03,293.71 127.66,292.28 135.28,290.68C142.9,289.08 150.53,287.25 158.15,285.88C165.77,284.5 173.4,283.59 181.02,282.44C188.64,281.3 196.27,280.1 203.89,279.01C211.51,277.92 219.14,276.95 226.76,275.92C234.38,274.89 242.01,273.35 249.63,272.83C257.25,272.32 268.69,272.83 272.5,272.83" fill="none" stroke="#2a2a2a" stroke-width="1.5"/>
<path d="M43.8,307.5C47.61,305.84 59.05,302.29 66.67,297.55C74.29,292.8 81.92,284.39 89.54,279.01C97.16,273.63 104.79,269.34 112.41,265.28C120.03,261.22 127.66,257.9 135.28,254.64C142.9,251.38 150.53,248.46 158.15,245.72C165.77,242.97 173.4,240.22 181.02,238.16C188.64,236.1 196.27,234.67 203.89,233.36C211.51,232.04 219.14,231.36 226.76,230.27C234.38,229.18 242.01,227.69 249.63,226.84C257.25,225.98 268.69,225.41 272.5,225.12" fill="none" stroke="#575757" stroke-width="1.5"/>
<path d="M43.8,307.5C47.61,306.36 59.05,304.07 66.67,300.63C74.29,297.2 81.92,291.08 89.54,286.9C97.16,282.73 104.79,279.01 112.41,275.58C120.03,272.15 127.66,269 135.28,266.31C142.9,263.62 150.53,261.56 158.15,259.44C165.77,257.33 173.4,255.61 181.02,253.61C188.64,251.61 196.27,249.15 203.89,247.43C211.51,245.71 219.14,244.51 226.76,243.31C234.38,242.11 242.01,240.8 249.63,240.22C257.25,239.65 268.69,239.94 272.5,239.88" fill="none" stroke="#a8a8a8" stroke-width="1.4"/>
<path d="M66.67,299.46V306.62M64.87,299.46H68.47M64.87,306.62H68.47" stroke="#4a4a4a" stroke-width="1.25" fill="none"/>
<path d="M89.54,289.96V298.27M87.74,289.96H91.34M87.74,298.27H91.34" stroke="#4a4a4a" stroke-width="1.25" fill="none"/>
<path d="M112.41,280.83V290.23M110.61,280.83H114.21M110.61,290.23H114.21" stroke="#4a4a4a" stroke-width="1.25" fill="none"/>
<path d="M135.28,272.8V283.16M133.48,272.8H137.08M133.48,283.16H137.08" stroke="#4a4a4a" stroke-width="1.25" fill="none"/>
<path d="M158.15,266.65V277.64M156.35,266.65H159.95M156.35,277.64H159.95" stroke="#4a4a4a" stroke-width="1.25" fill="none"/>
<path d="M181.02,261.16V272.15M179.22,261.16H182.82M179.22,272.15H182.82" stroke="#4a4a4a" stroke-width="1.25" fill="none"/>
<path d="M203.89,256.36V267.34M202.09,256.36H205.69M202.09,267.34H205.69" stroke="#4a4a4a" stroke-width="1.25" fill="none"/>
<path d="M226.76,252.24V263.22M224.96,252.24H228.56M224.96,263.22H228.56" stroke="#4a4a4a" stroke-width="1.25" fill="none"/>
<path d="M249.63,250.18V261.16M247.83,250.18H251.43M247.83,261.16H251.43" stroke="#4a4a4a" stroke-width="1.25" fill="none"/>
<path d="M272.5,249.15V260.13M270.7,249.15H274.3M270.7,260.13H274.3" stroke="#4a4a4a" stroke-width="1.25" fill="none"/>
<path d="M66.67,283.37V296.62M64.87,283.37H68.47M64.87,296.62H68.47" stroke="#b4b4b4" stroke-width="1.0" fill="none"/>
<path d="M89.54,258.76V275.23M87.74,258.76H91.34M87.74,275.23H91.34" stroke="#b4b4b4" stroke-width="1.0" fill="none"/>
<path d="M112.41,242.97V259.44M110.61,242.97H114.21M110.61,259.44H114.21" stroke="#b4b4b4" stroke-width="1.0" fill="none"/>
<path d="M135.28,230.27V246.74M133.48,230.27H137.08M133.48,246.74H137.08" stroke="#b4b4b4" stroke-width="1.0" fill="none"/>
<path d="M158.15,219.28V235.76M156.35,219.28H159.95M156.35,235.76H159.95" stroke="#b4b4b4" stroke-width="1.0" fill="none"/>
<path d="M181.02,210.7V227.18M179.22,210.7H182.82M179.22,227.18H182.82" stroke="#b4b4b4" stroke-width="1.0" fill="none"/>
<path d="M203.89,203.5V219.97M202.09,203.5H205.69M202.09,219.97H205.69" stroke="#b4b4b4" stroke-width="1.0" fill="none"/>
<path d="M226.76,198V214.48M224.96,198H228.56M224.96,214.48H228.56" stroke="#b4b4b4" stroke-width="1.0" fill="none"/>
<path d="M249.63,195.26V211.73M247.83,195.26H251.43M247.83,211.73H251.43" stroke="#b4b4b4" stroke-width="1.0" fill="none"/>
<path d="M272.5,193.54V210.02M270.7,193.54H274.3M270.7,210.02H274.3" stroke="#b4b4b4" stroke-width="1.0" fill="none"/>
<path d="M66.67,302.08V308.12M64.87,302.08H68.47M64.87,308.12H68.47" stroke="#4a4a4a" stroke-width="1.25" fill="none"/>
<path d="M89.54,298.09V304.55M87.74,298.09H91.34M87.74,304.55H91.34" stroke="#4a4a4a" stroke-width="1.25" fill="none"/>
<path d="M112.41,291.93V299.04M110.61,291.93H114.21M110.61,299.04H114.21" stroke="#4a4a4a" stroke-width="1.25" fill="none"/>
<path d="M135.28,286.86V294.51M133.48,286.86H137.08M133.48,294.51H137.08" stroke="#4a4a4a" stroke-width="1.25" fill="none"/>
<path d="M158.15,281.78V289.97M156.35,281.78H159.95M156.35,289.97H159.95" stroke="#4a4a4a" stroke-width="1.25" fill="none"/>
<path d="M181.02,278.16V286.73M179.22,278.16H182.82M179.22,286.73H182.82" stroke="#4a4a4a" stroke-width="1.25" fill="none"/>
<path d="M203.89,274.53V283.49M202.09,274.53H205.69M202.09,283.49H205.69" stroke="#4a4a4a" stroke-width="1.25" fill="none"/>
<path d="M226.76,271.27V280.57M224.96,271.27H228.56M224.96,280.57H228.56" stroke="#4a4a4a" stroke-width="1.25" fill="none"/>
<path d="M249.63,268.03V277.64M247.83,268.03H251.43M247.83,277.64H251.43" stroke="#4a4a4a" stroke-width="1.25" fill="none"/>
<path d="M272.5,268.03V277.64M270.7,268.03H274.3M270.7,277.64H274.3" stroke="#4a4a4a" stroke-width="1.25" fill="none"/>
<path d="M66.67,291.4V303.69M64.87,291.4H68.47M64.87,303.69H68.47" stroke="#4a4a4a" stroke-width="1.25" fill="none"/>
<path d="M89.54,271.01V287.01M87.74,271.01H91.34M87.74,287.01H91.34" stroke="#4a4a4a" stroke-width="1.25" fill="none"/>
<path d="M112.41,256.7V273.86M110.61,256.7H114.21M110.61,273.86H114.21" stroke="#4a4a4a" stroke-width="1.25" fill="none"/>
<path d="M135.28,246.06V263.22M133.48,246.06H137.08M133.48,263.22H137.08" stroke="#4a4a4a" stroke-width="1.25" fill="none"/>
<path d="M158.15,237.13V254.3M156.35,237.13H159.95M156.35,254.3H159.95" stroke="#4a4a4a" stroke-width="1.25" fill="none"/>
<path d="M181.02,229.58V246.74M179.22,229.58H182.82M179.22,246.74H182.82" stroke="#4a4a4a" stroke-width="1.25" fill="none"/>
<path d="M203.89,224.78V241.94M202.09,224.78H205.69M202.09,241.94H205.69" stroke="#4a4a4a" stroke-width="1.25" fill="none"/>
<path d="M226.76,221.69V238.85M224.96,221.69H228.56M224.96,238.85H228.56" stroke="#4a4a4a" stroke-width="1.25" fill="none"/>
<path d="M249.63,218.25V235.42M247.83,218.25H251.43M247.83,235.42H251.43" stroke="#4a4a4a" stroke-width="1.25" fill="none"/>
<path d="M272.5,216.54V233.7M270.7,216.54H274.3M270.7,233.7H274.3" stroke="#4a4a4a" stroke-width="1.25" fill="none"/>
<path d="M66.67,296.43V304.84M64.87,296.43H68.47M64.87,304.84H68.47" stroke="#b4b4b4" stroke-width="1.0" fill="none"/>
<path d="M89.54,281.72V292.09M87.74,281.72H91.34M87.74,292.09H91.34" stroke="#b4b4b4" stroke-width="1.0" fill="none"/>
<path d="M112.41,269.57V281.58M110.61,269.57H114.21M110.61,281.58H114.21" stroke="#b4b4b4" stroke-width="1.0" fill="none"/>
<path d="M135.28,260.13V272.49M133.48,260.13H137.08M133.48,272.49H137.08" stroke="#b4b4b4" stroke-width="1.0" fill="none"/>
<path d="M158.15,253.27V265.62M156.35,253.27H159.95M156.35,265.62H159.95" stroke="#b4b4b4" stroke-width="1.0" fill="none"/>
<path d="M181.02,247.43V259.79M179.22,247.43H182.82M179.22,259.79H182.82" stroke="#b4b4b4" stroke-width="1.0" fill="none"/>
<path d="M203.89,241.25V253.61M202.09,241.25H205.69M202.09,253.61H205.69" stroke="#b4b4b4" stroke-width="1.0" fill="none"/>
<path d="M226.76,237.13V249.49M224.96,237.13H228.56M224.96,249.49H228.56" stroke="#b4b4b4" stroke-width="1.0" fill="none"/>
<path d="M249.63,234.04V246.4M247.83,234.04H251.43M247.83,246.4H251.43" stroke="#b4b4b4" stroke-width="1.0" fill="none"/>
<path d="M272.5,233.7V246.06M270.7,233.7H274.3M270.7,246.06H274.3" stroke="#b4b4b4" stroke-width="1.0" fill="none"/>
<rect x="40.3" y="304" width="7" height="7" fill="#fff"/><path d="M41,304.7L46.6,310.3M41,310.3L46.6,304.7" stroke="#111" stroke-width="1.0" fill="none"/>
<rect x="63.17" y="299.54" width="7" height="7" fill="#fff"/><path d="M63.87,300.24L69.47,305.84M63.87,305.84L69.47,300.24" stroke="#111" stroke-width="1.0" fill="none"/>
<rect x="86.04" y="290.61" width="7" height="7" fill="#fff"/><path d="M86.74,291.31L92.34,296.91M86.74,296.91L92.34,291.31" stroke="#111" stroke-width="1.0" fill="none"/>
<rect x="108.91" y="282.03" width="7" height="7" fill="#fff"/><path d="M109.61,282.73L115.21,288.33M109.61,288.33L115.21,282.73" stroke="#111" stroke-width="1.0" fill="none"/>
<rect x="131.78" y="274.48" width="7" height="7" fill="#fff"/><path d="M132.48,275.18L138.08,280.78M132.48,280.78L138.08,275.18" stroke="#111" stroke-width="1.0" fill="none"/>
<rect x="154.65" y="268.65" width="7" height="7" fill="#fff"/><path d="M155.35,269.35L160.95,274.95M155.35,274.95L160.95,269.35" stroke="#111" stroke-width="1.0" fill="none"/>
<rect x="177.52" y="263.15" width="7" height="7" fill="#fff"/><path d="M178.22,263.85L183.82,269.45M178.22,269.45L183.82,263.85" stroke="#111" stroke-width="1.0" fill="none"/>
<rect x="200.39" y="258.35" width="7" height="7" fill="#fff"/><path d="M201.09,259.05L206.69,264.65M201.09,264.65L206.69,259.05" stroke="#111" stroke-width="1.0" fill="none"/>
<rect x="223.26" y="254.23" width="7" height="7" fill="#fff"/><path d="M223.96,254.93L229.56,260.53M223.96,260.53L229.56,254.93" stroke="#111" stroke-width="1.0" fill="none"/>
<rect x="246.13" y="252.17" width="7" height="7" fill="#fff"/><path d="M246.83,252.87L252.43,258.47M246.83,258.47L252.43,252.87" stroke="#111" stroke-width="1.0" fill="none"/>
<rect x="269" y="251.14" width="7" height="7" fill="#fff"/><path d="M269.7,251.84L275.3,257.44M269.7,257.44L275.3,251.84" stroke="#111" stroke-width="1.0" fill="none"/>
<path d="M43.8,304.5L46.8,307.5L43.8,310.5L40.8,307.5Z" fill="#000"/>
<path d="M66.67,286.99L69.67,289.99L66.67,292.99L63.67,289.99Z" fill="#000"/>
<path d="M89.54,264L92.54,267L89.54,270L86.54,267Z" fill="#000"/>
<path d="M112.41,248.21L115.41,251.21L112.41,254.21L109.41,251.21Z" fill="#000"/>
<path d="M135.28,235.51L138.28,238.51L135.28,241.51L132.28,238.51Z" fill="#000"/>
<path d="M158.15,224.52L161.15,227.52L158.15,230.52L155.15,227.52Z" fill="#000"/>
<path d="M181.02,215.94L184.02,218.94L181.02,221.94L178.02,218.94Z" fill="#000"/>
<path d="M203.89,208.73L206.89,211.73L203.89,214.73L200.89,211.73Z" fill="#000"/>
<path d="M226.76,203.24L229.76,206.24L226.76,209.24L223.76,206.24Z" fill="#000"/>
<path d="M249.63,200.5L252.63,203.5L249.63,206.5L246.63,203.5Z" fill="#000"/>
<path d="M272.5,198.78L275.5,201.78L272.5,204.78L269.5,201.78Z" fill="#000"/>
<rect x="40.95" y="304.65" width="5.7" height="5.7" fill="#000"/>
<rect x="63.82" y="302.25" width="5.7" height="5.7" fill="#000"/>
<rect x="86.69" y="298.47" width="5.7" height="5.7" fill="#000"/>
<rect x="109.56" y="292.64" width="5.7" height="5.7" fill="#000"/>
<rect x="132.43" y="287.83" width="5.7" height="5.7" fill="#000"/>
<rect x="155.3" y="283.03" width="5.7" height="5.7" fill="#000"/>
<rect x="178.17" y="279.59" width="5.7" height="5.7" fill="#000"/>
<rect x="201.04" y="276.16" width="5.7" height="5.7" fill="#000"/>
<rect x="223.91" y="273.07" width="5.7" height="5.7" fill="#000"/>
<rect x="246.78" y="269.98" width="5.7" height="5.7" fill="#000"/>
<rect x="269.65" y="269.98" width="5.7" height="5.7" fill="#000"/>
<path d="M43.8,304.3L46.8,309.9L40.8,309.9Z" fill="#000"/>
<path d="M66.67,294.35L69.67,299.95L63.67,299.95Z" fill="#000"/>
<path d="M89.54,275.81L92.54,281.41L86.54,281.41Z" fill="#000"/>
<path d="M112.41,262.08L115.41,267.68L109.41,267.68Z" fill="#000"/>
<path d="M135.28,251.44L138.28,257.04L132.28,257.04Z" fill="#000"/>
<path d="M158.15,242.52L161.15,248.12L155.15,248.12Z" fill="#000"/>
<path d="M181.02,234.96L184.02,240.56L178.02,240.56Z" fill="#000"/>
<path d="M203.89,230.16L206.89,235.76L200.89,235.76Z" fill="#000"/>
<path d="M226.76,227.07L229.76,232.67L223.76,232.67Z" fill="#000"/>
<path d="M249.63,223.64L252.63,229.24L246.63,229.24Z" fill="#000"/>
<path d="M272.5,221.92L275.5,227.52L269.5,227.52Z" fill="#000"/>
<circle cx="43.8" cy="307.5" r="2.8" fill="#000"/>
<circle cx="66.67" cy="300.63" r="2.8" fill="#000"/>
<circle cx="89.54" cy="286.9" r="2.8" fill="#000"/>
<circle cx="112.41" cy="275.58" r="2.8" fill="#000"/>
<circle cx="135.28" cy="266.31" r="2.8" fill="#000"/>
<circle cx="158.15" cy="259.44" r="2.8" fill="#000"/>
<circle cx="181.02" cy="253.61" r="2.8" fill="#000"/>
<circle cx="203.89" cy="247.43" r="2.8" fill="#000"/>
<circle cx="226.76" cy="243.31" r="2.8" fill="#000"/>
<circle cx="249.63" cy="240.22" r="2.8" fill="#000"/>
<circle cx="272.5" cy="239.88" r="2.8" fill="#000"/>
<path d="M295.5,307.5C299.35,306.58 310.91,306.01 318.61,302.01C326.31,298 334.02,289.36 341.72,283.47C349.42,277.58 357.13,271.4 364.83,266.65C372.53,261.9 380.24,258.01 387.94,254.98C395.64,251.95 403.35,250.01 411.05,248.46C418.75,246.92 426.46,246.4 434.16,245.72C441.86,245.03 449.57,244.69 457.27,244.34C464.97,244 472.68,243.77 480.38,243.66C488.08,243.54 495.79,243.66 503.49,243.66C511.19,243.66 522.75,243.66 526.6,243.66" fill="none" stroke="#3c3c3c" stroke-width="2.0"/>
<path d="M295.5,307.5C299.35,304.18 310.91,295.09 318.61,287.59C326.31,280.1 334.02,270.54 341.72,262.53C349.42,254.53 357.13,246 364.83,239.54C372.53,233.07 380.24,228.32 387.94,223.75C395.64,219.17 403.35,215.22 411.05,212.08C418.75,208.93 426.46,206.7 434.16,204.87C441.86,203.04 449.57,202.18 457.27,201.09C464.97,200.01 472.68,199.15 480.38,198.35C488.08,197.55 495.79,196.8 503.49,196.29C511.19,195.77 522.75,195.43 526.6,195.26" fill="none" stroke="#b2b2b2" stroke-width="1.25"/>
<path d="M295.5,307.5C299.35,306.93 310.91,306.18 318.61,304.07C326.31,301.95 334.02,297.72 341.72,294.8C349.42,291.88 357.13,289.19 364.83,286.56C372.53,283.93 380.24,281.3 387.94,279.01C395.64,276.72 403.35,274.66 411.05,272.83C418.75,271 426.46,269.23 434.16,268.03C441.86,266.82 449.57,266.08 457.27,265.62C464.97,265.17 472.68,265.34 480.38,265.28C488.08,265.22 495.79,265.28 503.49,265.28C511.19,265.28 522.75,265.28 526.6,265.28" fill="none" stroke="#2a2a2a" stroke-width="1.5"/>
<path d="M295.5,307.5C299.35,305.67 310.91,302.35 318.61,296.52C326.31,290.68 334.02,279.7 341.72,272.49C349.42,265.28 357.13,258.82 364.83,253.27C372.53,247.72 380.24,243.2 387.94,239.19C395.64,235.19 403.35,231.87 411.05,229.24C418.75,226.61 426.46,225.01 434.16,223.4C441.86,221.8 449.57,220.6 457.27,219.63C464.97,218.66 472.68,218.2 480.38,217.57C488.08,216.94 495.79,216.25 503.49,215.85C511.19,215.45 522.75,215.28 526.6,215.17" fill="none" stroke="#575757" stroke-width="1.5"/>
<path d="M295.5,307.5C299.35,306.01 310.91,303.95 318.61,298.58C326.31,293.2 334.02,282.16 341.72,275.23C349.42,268.31 357.13,262.25 364.83,257.04C372.53,251.84 380.24,247.55 387.94,244C395.64,240.45 403.35,237.88 411.05,235.76C418.75,233.64 426.46,232.44 434.16,231.3C441.86,230.15 449.57,229.64 457.27,228.9C464.97,228.15 472.68,227.35 480.38,226.84C488.08,226.32 495.79,225.98 503.49,225.81C511.19,225.63 522.75,225.81 526.6,225.81" fill="none" stroke="#a8a8a8" stroke-width="1.4"/>
<path d="M318.61,298.36V305.65M316.81,298.36H320.41M316.81,305.65H320.41" stroke="#4a4a4a" stroke-width="1.25" fill="none"/>
<path d="M341.72,278.64V288.31M339.92,278.64H343.52M339.92,288.31H343.52" stroke="#4a4a4a" stroke-width="1.25" fill="none"/>
<path d="M364.83,261.16V272.15M363.03,261.16H366.63M363.03,272.15H366.63" stroke="#4a4a4a" stroke-width="1.25" fill="none"/>
<path d="M387.94,249.49V260.47M386.14,249.49H389.74M386.14,260.47H389.74" stroke="#4a4a4a" stroke-width="1.25" fill="none"/>
<path d="M411.05,242.97V253.95M409.25,242.97H412.85M409.25,253.95H412.85" stroke="#4a4a4a" stroke-width="1.25" fill="none"/>
<path d="M434.16,240.22V251.21M432.36,240.22H435.96M432.36,251.21H435.96" stroke="#4a4a4a" stroke-width="1.25" fill="none"/>
<path d="M457.27,238.85V249.83M455.47,238.85H459.07M455.47,249.83H459.07" stroke="#4a4a4a" stroke-width="1.25" fill="none"/>
<path d="M480.38,238.16V249.15M478.58,238.16H482.18M478.58,249.15H482.18" stroke="#4a4a4a" stroke-width="1.25" fill="none"/>
<path d="M503.49,238.16V249.15M501.69,238.16H505.29M501.69,249.15H505.29" stroke="#4a4a4a" stroke-width="1.25" fill="none"/>
<path d="M526.6,238.16V249.15M524.8,238.16H528.4M524.8,249.15H528.4" stroke="#4a4a4a" stroke-width="1.25" fill="none"/>
<path d="M318.61,280.74V294.45M316.81,280.74H320.41M316.81,294.45H320.41" stroke="#b4b4b4" stroke-width="1.0" fill="none"/>
<path d="M341.72,254.3V270.77M339.92,254.3H343.52M339.92,270.77H343.52" stroke="#b4b4b4" stroke-width="1.0" fill="none"/>
<path d="M364.83,231.3V247.77M363.03,231.3H366.63M363.03,247.77H366.63" stroke="#b4b4b4" stroke-width="1.0" fill="none"/>
<path d="M387.94,215.51V231.98M386.14,215.51H389.74M386.14,231.98H389.74" stroke="#b4b4b4" stroke-width="1.0" fill="none"/>
<path d="M411.05,203.84V220.31M409.25,203.84H412.85M409.25,220.31H412.85" stroke="#b4b4b4" stroke-width="1.0" fill="none"/>
<path d="M434.16,196.63V213.11M432.36,196.63H435.96M432.36,213.11H435.96" stroke="#b4b4b4" stroke-width="1.0" fill="none"/>
<path d="M457.27,192.85V209.33M455.47,192.85H459.07M455.47,209.33H459.07" stroke="#b4b4b4" stroke-width="1.0" fill="none"/>
<path d="M480.38,190.11V206.58M478.58,190.11H482.18M478.58,206.58H482.18" stroke="#b4b4b4" stroke-width="1.0" fill="none"/>
<path d="M503.49,188.05V204.52M501.69,188.05H505.29M501.69,204.52H505.29" stroke="#b4b4b4" stroke-width="1.0" fill="none"/>
<path d="M526.6,187.02V203.5M524.8,187.02H528.4M524.8,203.5H528.4" stroke="#b4b4b4" stroke-width="1.0" fill="none"/>
<path d="M318.61,300.99V307.14M316.81,300.99H320.41M316.81,307.14H320.41" stroke="#4a4a4a" stroke-width="1.25" fill="none"/>
<path d="M341.72,291.21V298.39M339.92,291.21H343.52M339.92,298.39H343.52" stroke="#4a4a4a" stroke-width="1.25" fill="none"/>
<path d="M364.83,282.51V290.62M363.03,282.51H366.63M363.03,290.62H366.63" stroke="#4a4a4a" stroke-width="1.25" fill="none"/>
<path d="M387.94,274.53V283.49M386.14,274.53H389.74M386.14,283.49H389.74" stroke="#4a4a4a" stroke-width="1.25" fill="none"/>
<path d="M411.05,268.03V277.64M409.25,268.03H412.85M409.25,277.64H412.85" stroke="#4a4a4a" stroke-width="1.25" fill="none"/>
<path d="M434.16,263.22V272.83M432.36,263.22H435.96M432.36,272.83H435.96" stroke="#4a4a4a" stroke-width="1.25" fill="none"/>
<path d="M457.27,260.82V270.43M455.47,260.82H459.07M455.47,270.43H459.07" stroke="#4a4a4a" stroke-width="1.25" fill="none"/>
<path d="M480.38,260.47V270.09M478.58,260.47H482.18M478.58,270.09H482.18" stroke="#4a4a4a" stroke-width="1.25" fill="none"/>
<path d="M503.49,260.47V270.09M501.69,260.47H505.29M501.69,270.09H505.29" stroke="#4a4a4a" stroke-width="1.25" fill="none"/>
<path d="M526.6,260.47V270.09M524.8,260.47H528.4M524.8,270.09H528.4" stroke="#4a4a4a" stroke-width="1.25" fill="none"/>
<path d="M318.61,290.27V302.76M316.81,290.27H320.41M316.81,302.76H320.41" stroke="#4a4a4a" stroke-width="1.25" fill="none"/>
<path d="M341.72,263.91V281.07M339.92,263.91H343.52M339.92,281.07H343.52" stroke="#4a4a4a" stroke-width="1.25" fill="none"/>
<path d="M364.83,244.69V261.85M363.03,244.69H366.63M363.03,261.85H366.63" stroke="#4a4a4a" stroke-width="1.25" fill="none"/>
<path d="M387.94,230.61V247.77M386.14,230.61H389.74M386.14,247.77H389.74" stroke="#4a4a4a" stroke-width="1.25" fill="none"/>
<path d="M411.05,220.66V237.82M409.25,220.66H412.85M409.25,237.82H412.85" stroke="#4a4a4a" stroke-width="1.25" fill="none"/>
<path d="M434.16,214.82V231.98M432.36,214.82H435.96M432.36,231.98H435.96" stroke="#4a4a4a" stroke-width="1.25" fill="none"/>
<path d="M457.27,211.05V228.21M455.47,211.05H459.07M455.47,228.21H459.07" stroke="#4a4a4a" stroke-width="1.25" fill="none"/>
<path d="M480.38,208.99V226.15M478.58,208.99H482.18M478.58,226.15H482.18" stroke="#4a4a4a" stroke-width="1.25" fill="none"/>
<path d="M503.49,207.27V224.43M501.69,207.27H505.29M501.69,224.43H505.29" stroke="#4a4a4a" stroke-width="1.25" fill="none"/>
<path d="M526.6,206.58V223.75M524.8,206.58H528.4M524.8,223.75H528.4" stroke="#4a4a4a" stroke-width="1.25" fill="none"/>
<path d="M318.61,294.23V302.93M316.81,294.23H320.41M316.81,302.93H320.41" stroke="#b4b4b4" stroke-width="1.0" fill="none"/>
<path d="M341.72,269.2V281.26M339.92,269.2H343.52M339.92,281.26H343.52" stroke="#b4b4b4" stroke-width="1.0" fill="none"/>
<path d="M364.83,250.86V263.22M363.03,250.86H366.63M363.03,263.22H366.63" stroke="#b4b4b4" stroke-width="1.0" fill="none"/>
<path d="M387.94,237.82V250.18M386.14,237.82H389.74M386.14,250.18H389.74" stroke="#b4b4b4" stroke-width="1.0" fill="none"/>
<path d="M411.05,229.58V241.94M409.25,229.58H412.85M409.25,241.94H412.85" stroke="#b4b4b4" stroke-width="1.0" fill="none"/>
<path d="M434.16,225.12V237.48M432.36,225.12H435.96M432.36,237.48H435.96" stroke="#b4b4b4" stroke-width="1.0" fill="none"/>
<path d="M457.27,222.72V235.07M455.47,222.72H459.07M455.47,235.07H459.07" stroke="#b4b4b4" stroke-width="1.0" fill="none"/>
<path d="M480.38,220.66V233.01M478.58,220.66H482.18M478.58,233.01H482.18" stroke="#b4b4b4" stroke-width="1.0" fill="none"/>
<path d="M503.49,219.63V231.99M501.69,219.63H505.29M501.69,231.99H505.29" stroke="#b4b4b4" stroke-width="1.0" fill="none"/>
<path d="M526.6,219.63V231.99M524.8,219.63H528.4M524.8,231.99H528.4" stroke="#b4b4b4" stroke-width="1.0" fill="none"/>
<rect x="292" y="304" width="7" height="7" fill="#fff"/><path d="M292.7,304.7L298.3,310.3M292.7,310.3L298.3,304.7" stroke="#111" stroke-width="1.0" fill="none"/>
<rect x="315.11" y="298.51" width="7" height="7" fill="#fff"/><path d="M315.81,299.21L321.41,304.81M315.81,304.81L321.41,299.21" stroke="#111" stroke-width="1.0" fill="none"/>
<rect x="338.22" y="279.97" width="7" height="7" fill="#fff"/><path d="M338.92,280.67L344.52,286.27M338.92,286.27L344.52,280.67" stroke="#111" stroke-width="1.0" fill="none"/>
<rect x="361.33" y="263.15" width="7" height="7" fill="#fff"/><path d="M362.03,263.85L367.63,269.45M362.03,269.45L367.63,263.85" stroke="#111" stroke-width="1.0" fill="none"/>
<rect x="384.44" y="251.48" width="7" height="7" fill="#fff"/><path d="M385.14,252.18L390.74,257.78M385.14,257.78L390.74,252.18" stroke="#111" stroke-width="1.0" fill="none"/>
<rect x="407.55" y="244.96" width="7" height="7" fill="#fff"/><path d="M408.25,245.66L413.85,251.26M408.25,251.26L413.85,245.66" stroke="#111" stroke-width="1.0" fill="none"/>
<rect x="430.66" y="242.22" width="7" height="7" fill="#fff"/><path d="M431.36,242.91L436.96,248.52M431.36,248.52L436.96,242.91" stroke="#111" stroke-width="1.0" fill="none"/>
<rect x="453.77" y="240.84" width="7" height="7" fill="#fff"/><path d="M454.47,241.54L460.07,247.14M454.47,247.14L460.07,241.54" stroke="#111" stroke-width="1.0" fill="none"/>
<rect x="476.88" y="240.16" width="7" height="7" fill="#fff"/><path d="M477.58,240.86L483.18,246.46M477.58,246.46L483.18,240.86" stroke="#111" stroke-width="1.0" fill="none"/>
<rect x="499.99" y="240.16" width="7" height="7" fill="#fff"/><path d="M500.69,240.86L506.29,246.46M500.69,246.46L506.29,240.86" stroke="#111" stroke-width="1.0" fill="none"/>
<rect x="523.1" y="240.16" width="7" height="7" fill="#fff"/><path d="M523.8,240.86L529.4,246.46M523.8,246.46L529.4,240.86" stroke="#111" stroke-width="1.0" fill="none"/>
<path d="M295.5,304.5L298.5,307.5L295.5,310.5L292.5,307.5Z" fill="#000"/>
<path d="M318.61,284.59L321.61,287.59L318.61,290.59L315.61,287.59Z" fill="#000"/>
<path d="M341.72,259.53L344.72,262.53L341.72,265.53L338.72,262.53Z" fill="#000"/>
<path d="M364.83,236.54L367.83,239.54L364.83,242.54L361.83,239.54Z" fill="#000"/>
<path d="M387.94,220.75L390.94,223.75L387.94,226.75L384.94,223.75Z" fill="#000"/>
<path d="M411.05,209.08L414.05,212.08L411.05,215.08L408.05,212.08Z" fill="#000"/>
<path d="M434.16,201.87L437.16,204.87L434.16,207.87L431.16,204.87Z" fill="#000"/>
<path d="M457.27,198.09L460.27,201.09L457.27,204.09L454.27,201.09Z" fill="#000"/>
<path d="M480.38,195.35L483.38,198.35L480.38,201.35L477.38,198.35Z" fill="#000"/>
<path d="M503.49,193.29L506.49,196.29L503.49,199.29L500.49,196.29Z" fill="#000"/>
<path d="M526.6,192.26L529.6,195.26L526.6,198.26L523.6,195.26Z" fill="#000"/>
<rect x="292.65" y="304.65" width="5.7" height="5.7" fill="#000"/>
<rect x="315.76" y="301.22" width="5.7" height="5.7" fill="#000"/>
<rect x="338.87" y="291.95" width="5.7" height="5.7" fill="#000"/>
<rect x="361.98" y="283.71" width="5.7" height="5.7" fill="#000"/>
<rect x="385.09" y="276.16" width="5.7" height="5.7" fill="#000"/>
<rect x="408.2" y="269.98" width="5.7" height="5.7" fill="#000"/>
<rect x="431.31" y="265.18" width="5.7" height="5.7" fill="#000"/>
<rect x="454.42" y="262.77" width="5.7" height="5.7" fill="#000"/>
<rect x="477.53" y="262.43" width="5.7" height="5.7" fill="#000"/>
<rect x="500.64" y="262.43" width="5.7" height="5.7" fill="#000"/>
<rect x="523.75" y="262.43" width="5.7" height="5.7" fill="#000"/>
<path d="M295.5,304.3L298.5,309.9L292.5,309.9Z" fill="#000"/>
<path d="M318.61,293.32L321.61,298.92L315.61,298.92Z" fill="#000"/>
<path d="M341.72,269.29L344.72,274.89L338.72,274.89Z" fill="#000"/>
<path d="M364.83,250.07L367.83,255.67L361.83,255.67Z" fill="#000"/>
<path d="M387.94,235.99L390.94,241.59L384.94,241.59Z" fill="#000"/>
<path d="M411.05,226.04L414.05,231.64L408.05,231.64Z" fill="#000"/>
<path d="M434.16,220.2L437.16,225.8L431.16,225.8Z" fill="#000"/>
<path d="M457.27,216.43L460.27,222.03L454.27,222.03Z" fill="#000"/>
<path d="M480.38,214.37L483.38,219.97L477.38,219.97Z" fill="#000"/>
<path d="M503.49,212.65L506.49,218.25L500.49,218.25Z" fill="#000"/>
<path d="M526.6,211.97L529.6,217.57L523.6,217.57Z" fill="#000"/>
<circle cx="295.5" cy="307.5" r="2.8" fill="#000"/>
<circle cx="318.61" cy="298.58" r="2.8" fill="#000"/>
<circle cx="341.72" cy="275.23" r="2.8" fill="#000"/>
<circle cx="364.83" cy="257.04" r="2.8" fill="#000"/>
<circle cx="387.94" cy="244" r="2.8" fill="#000"/>
<circle cx="411.05" cy="235.76" r="2.8" fill="#000"/>
<circle cx="434.16" cy="231.3" r="2.8" fill="#000"/>
<circle cx="457.27" cy="228.9" r="2.8" fill="#000"/>
<circle cx="480.38" cy="226.84" r="2.8" fill="#000"/>
<circle cx="503.49" cy="225.81" r="2.8" fill="#000"/>
<circle cx="526.6" cy="225.81" r="2.8" fill="#000"/>
<path d="M169.8,496.4C173.62,495.03 185.1,492.52 192.75,488.17C200.4,483.83 208.05,476.23 215.7,470.35C223.35,464.47 231,457.9 238.65,452.87C246.3,447.84 253.95,443.45 261.6,440.19C269.25,436.93 276.9,435.05 284.55,433.33C292.2,431.62 299.85,430.93 307.5,429.91C315.15,428.88 322.8,427.79 330.45,427.16C338.1,426.54 345.75,426.59 353.4,426.14C361.05,425.68 368.7,425.17 376.35,424.42C384,423.68 395.48,422.14 399.3,421.68" fill="none" stroke="#3c3c3c" stroke-width="2.0"/>
<path d="M169.8,496.4C173.62,492.63 185.1,484 192.75,473.78C200.4,463.55 208.05,445.33 215.7,435.05C223.35,424.77 231,418.6 238.65,412.08C246.3,405.57 253.95,400.49 261.6,395.97C269.25,391.46 276.9,387.63 284.55,385.01C292.2,382.38 299.85,381.24 307.5,380.21C315.15,379.18 322.8,379.07 330.45,378.84C338.1,378.61 345.75,378.84 353.4,378.84C361.05,378.84 368.7,378.84 376.35,378.84C384,378.84 395.48,378.84 399.3,378.84" fill="none" stroke="#b2b2b2" stroke-width="1.25"/>
<path d="M169.8,496.4C173.62,495.6 185.1,494.12 192.75,491.6C200.4,489.09 208.05,484.29 215.7,481.32C223.35,478.35 231,476.69 238.65,473.78C246.3,470.87 253.95,466.52 261.6,463.84C269.25,461.15 276.9,459.21 284.55,457.67C292.2,456.13 299.85,455.5 307.5,454.58C315.15,453.67 322.8,452.87 330.45,452.19C338.1,451.5 345.75,451.16 353.4,450.47C361.05,449.79 368.7,448.64 376.35,448.07C384,447.5 395.48,447.22 399.3,447.04" fill="none" stroke="#2a2a2a" stroke-width="1.5"/>
<path d="M169.8,496.4C173.62,494.34 185.1,492.46 192.75,484.06C200.4,475.66 208.05,456.64 215.7,446.02C223.35,435.39 231,427.56 238.65,420.31C246.3,413.05 253.95,406.66 261.6,402.49C269.25,398.32 276.9,396.95 284.55,395.29C292.2,393.63 299.85,393.35 307.5,392.55C315.15,391.75 322.8,390.83 330.45,390.49C338.1,390.15 345.75,390.49 353.4,390.49C361.05,390.49 368.7,390.66 376.35,390.49C384,390.32 395.48,389.63 399.3,389.46" fill="none" stroke="#575757" stroke-width="1.5"/>
<path d="M169.8,496.4C173.62,494.8 185.1,494.63 192.75,486.8C200.4,478.98 208.05,459.84 215.7,449.44C223.35,439.05 231,431.56 238.65,424.42C246.3,417.28 253.95,409.91 261.6,406.6C269.25,403.29 276.9,404.89 284.55,404.54C292.2,404.2 299.85,404.66 307.5,404.54C315.15,404.43 322.8,404.2 330.45,403.86C338.1,403.51 345.75,402.71 353.4,402.49C361.05,402.26 368.7,402.14 376.35,402.49C384,402.83 395.48,404.2 399.3,404.54" fill="none" stroke="#a8a8a8" stroke-width="1.4"/>
<path d="M192.75,483.02V493.33M190.95,483.02H194.55M190.95,493.33H194.55" stroke="#4a4a4a" stroke-width="1.25" fill="none"/>
<path d="M215.7,463.66V477.04M213.9,463.66H217.5M213.9,477.04H217.5" stroke="#4a4a4a" stroke-width="1.25" fill="none"/>
<path d="M238.65,445.47V460.27M236.85,445.47H240.45M236.85,460.27H240.45" stroke="#4a4a4a" stroke-width="1.25" fill="none"/>
<path d="M261.6,432.79V447.59M259.8,432.79H263.4M259.8,447.59H263.4" stroke="#4a4a4a" stroke-width="1.25" fill="none"/>
<path d="M284.55,425.93V440.74M282.75,425.93H286.35M282.75,440.74H286.35" stroke="#4a4a4a" stroke-width="1.25" fill="none"/>
<path d="M307.5,422.5V437.31M305.7,422.5H309.3M305.7,437.31H309.3" stroke="#4a4a4a" stroke-width="1.25" fill="none"/>
<path d="M330.45,419.76V434.57M328.65,419.76H332.25M328.65,434.57H332.25" stroke="#4a4a4a" stroke-width="1.25" fill="none"/>
<path d="M353.4,418.73V433.54M351.6,418.73H355.2M351.6,433.54H355.2" stroke="#4a4a4a" stroke-width="1.25" fill="none"/>
<path d="M376.35,417.02V431.83M374.55,417.02H378.15M374.55,431.83H378.15" stroke="#4a4a4a" stroke-width="1.25" fill="none"/>
<path d="M399.3,414.28V429.08M397.5,414.28H401.1M397.5,429.08H401.1" stroke="#4a4a4a" stroke-width="1.25" fill="none"/>
<path d="M192.75,464.18V483.37M190.95,464.18H194.55M190.95,483.37H194.55" stroke="#b4b4b4" stroke-width="1.0" fill="none"/>
<path d="M215.7,423.94V446.15M213.9,423.94H217.5M213.9,446.15H217.5" stroke="#b4b4b4" stroke-width="1.0" fill="none"/>
<path d="M238.65,400.98V423.19M236.85,400.98H240.45M236.85,423.19H240.45" stroke="#b4b4b4" stroke-width="1.0" fill="none"/>
<path d="M261.6,384.87V407.08M259.8,384.87H263.4M259.8,407.08H263.4" stroke="#b4b4b4" stroke-width="1.0" fill="none"/>
<path d="M284.55,373.9V396.11M282.75,373.9H286.35M282.75,396.11H286.35" stroke="#b4b4b4" stroke-width="1.0" fill="none"/>
<path d="M307.5,369.1V391.31M305.7,369.1H309.3M305.7,391.31H309.3" stroke="#b4b4b4" stroke-width="1.0" fill="none"/>
<path d="M330.45,367.73V389.94M328.65,367.73H332.25M328.65,389.94H332.25" stroke="#b4b4b4" stroke-width="1.0" fill="none"/>
<path d="M353.4,367.73V389.94M351.6,367.73H355.2M351.6,389.94H355.2" stroke="#b4b4b4" stroke-width="1.0" fill="none"/>
<path d="M376.35,367.73V389.94M374.55,367.73H378.15M374.55,389.94H378.15" stroke="#b4b4b4" stroke-width="1.0" fill="none"/>
<path d="M399.3,367.73V389.94M397.5,367.73H401.1M397.5,389.94H401.1" stroke="#b4b4b4" stroke-width="1.0" fill="none"/>
<path d="M192.75,487.35V495.85M190.95,487.35H194.55M190.95,495.85H194.55" stroke="#4a4a4a" stroke-width="1.25" fill="none"/>
<path d="M215.7,476.29V486.35M213.9,476.29H217.5M213.9,486.35H217.5" stroke="#4a4a4a" stroke-width="1.25" fill="none"/>
<path d="M238.65,468.18V479.38M236.85,468.18H240.45M236.85,479.38H240.45" stroke="#4a4a4a" stroke-width="1.25" fill="none"/>
<path d="M261.6,457.49V470.19M259.8,457.49H263.4M259.8,470.19H263.4" stroke="#4a4a4a" stroke-width="1.25" fill="none"/>
<path d="M284.55,451.19V464.15M282.75,451.19H286.35M282.75,464.15H286.35" stroke="#4a4a4a" stroke-width="1.25" fill="none"/>
<path d="M307.5,448.11V461.06M305.7,448.11H309.3M305.7,461.06H309.3" stroke="#4a4a4a" stroke-width="1.25" fill="none"/>
<path d="M330.45,445.71V458.66M328.65,445.71H332.25M328.65,458.66H332.25" stroke="#4a4a4a" stroke-width="1.25" fill="none"/>
<path d="M353.4,443.99V456.95M351.6,443.99H355.2M351.6,456.95H355.2" stroke="#4a4a4a" stroke-width="1.25" fill="none"/>
<path d="M376.35,441.59V454.55M374.55,441.59H378.15M374.55,454.55H378.15" stroke="#4a4a4a" stroke-width="1.25" fill="none"/>
<path d="M399.3,440.57V453.52M397.5,440.57H401.1M397.5,453.52H401.1" stroke="#4a4a4a" stroke-width="1.25" fill="none"/>
<path d="M192.75,475.45V492.67M190.95,475.45H194.55M190.95,492.67H194.55" stroke="#4a4a4a" stroke-width="1.25" fill="none"/>
<path d="M215.7,434.45V457.58M213.9,434.45H217.5M213.9,457.58H217.5" stroke="#4a4a4a" stroke-width="1.25" fill="none"/>
<path d="M238.65,408.74V431.88M236.85,408.74H240.45M236.85,431.88H240.45" stroke="#4a4a4a" stroke-width="1.25" fill="none"/>
<path d="M261.6,390.92V414.05M259.8,390.92H263.4M259.8,414.05H263.4" stroke="#4a4a4a" stroke-width="1.25" fill="none"/>
<path d="M284.55,383.72V406.86M282.75,383.72H286.35M282.75,406.86H286.35" stroke="#4a4a4a" stroke-width="1.25" fill="none"/>
<path d="M307.5,380.98V404.11M305.7,380.98H309.3M305.7,404.11H309.3" stroke="#4a4a4a" stroke-width="1.25" fill="none"/>
<path d="M330.45,378.92V402.06M328.65,378.92H332.25M328.65,402.06H332.25" stroke="#4a4a4a" stroke-width="1.25" fill="none"/>
<path d="M353.4,378.92V402.06M351.6,378.92H355.2M351.6,402.06H355.2" stroke="#4a4a4a" stroke-width="1.25" fill="none"/>
<path d="M376.35,378.92V402.06M374.55,378.92H378.15M374.55,402.06H378.15" stroke="#4a4a4a" stroke-width="1.25" fill="none"/>
<path d="M399.3,377.89V401.03M397.5,377.89H401.1M397.5,401.03H401.1" stroke="#4a4a4a" stroke-width="1.25" fill="none"/>
<path d="M192.75,480.87V492.73M190.95,480.87H194.55M190.95,492.73H194.55" stroke="#b4b4b4" stroke-width="1.0" fill="none"/>
<path d="M215.7,441.11V457.77M213.9,441.11H217.5M213.9,457.77H217.5" stroke="#b4b4b4" stroke-width="1.0" fill="none"/>
<path d="M238.65,416.09V432.75M236.85,416.09H240.45M236.85,432.75H240.45" stroke="#b4b4b4" stroke-width="1.0" fill="none"/>
<path d="M261.6,398.27V414.93M259.8,398.27H263.4M259.8,414.93H263.4" stroke="#b4b4b4" stroke-width="1.0" fill="none"/>
<path d="M284.55,396.21V412.87M282.75,396.21H286.35M282.75,412.87H286.35" stroke="#b4b4b4" stroke-width="1.0" fill="none"/>
<path d="M307.5,396.21V412.87M305.7,396.21H309.3M305.7,412.87H309.3" stroke="#b4b4b4" stroke-width="1.0" fill="none"/>
<path d="M330.45,395.53V412.19M328.65,395.53H332.25M328.65,412.19H332.25" stroke="#b4b4b4" stroke-width="1.0" fill="none"/>
<path d="M353.4,394.16V410.82M351.6,394.16H355.2M351.6,410.82H355.2" stroke="#b4b4b4" stroke-width="1.0" fill="none"/>
<path d="M376.35,394.16V410.82M374.55,394.16H378.15M374.55,410.82H378.15" stroke="#b4b4b4" stroke-width="1.0" fill="none"/>
<path d="M399.3,396.21V412.87M397.5,396.21H401.1M397.5,412.87H401.1" stroke="#b4b4b4" stroke-width="1.0" fill="none"/>
<rect x="166.3" y="492.9" width="7" height="7" fill="#fff"/><path d="M167,493.6L172.6,499.2M167,499.2L172.6,493.6" stroke="#111" stroke-width="1.0" fill="none"/>
<rect x="189.25" y="484.67" width="7" height="7" fill="#fff"/><path d="M189.95,485.37L195.55,490.97M189.95,490.97L195.55,485.37" stroke="#111" stroke-width="1.0" fill="none"/>
<rect x="212.2" y="466.85" width="7" height="7" fill="#fff"/><path d="M212.9,467.55L218.5,473.15M212.9,473.15L218.5,467.55" stroke="#111" stroke-width="1.0" fill="none"/>
<rect x="235.15" y="449.37" width="7" height="7" fill="#fff"/><path d="M235.85,450.07L241.45,455.67M235.85,455.67L241.45,450.07" stroke="#111" stroke-width="1.0" fill="none"/>
<rect x="258.1" y="436.69" width="7" height="7" fill="#fff"/><path d="M258.8,437.39L264.4,442.99M258.8,442.99L264.4,437.39" stroke="#111" stroke-width="1.0" fill="none"/>
<rect x="281.05" y="429.83" width="7" height="7" fill="#fff"/><path d="M281.75,430.53L287.35,436.13M281.75,436.13L287.35,430.53" stroke="#111" stroke-width="1.0" fill="none"/>
<rect x="304" y="426.41" width="7" height="7" fill="#fff"/><path d="M304.7,427.11L310.3,432.71M304.7,432.71L310.3,427.11" stroke="#111" stroke-width="1.0" fill="none"/>
<rect x="326.95" y="423.66" width="7" height="7" fill="#fff"/><path d="M327.65,424.36L333.25,429.96M327.65,429.96L333.25,424.36" stroke="#111" stroke-width="1.0" fill="none"/>
<rect x="349.9" y="422.64" width="7" height="7" fill="#fff"/><path d="M350.6,423.34L356.2,428.94M350.6,428.94L356.2,423.34" stroke="#111" stroke-width="1.0" fill="none"/>
<rect x="372.85" y="420.92" width="7" height="7" fill="#fff"/><path d="M373.55,421.62L379.15,427.22M373.55,427.22L379.15,421.62" stroke="#111" stroke-width="1.0" fill="none"/>
<rect x="395.8" y="418.18" width="7" height="7" fill="#fff"/><path d="M396.5,418.88L402.1,424.48M396.5,424.48L402.1,418.88" stroke="#111" stroke-width="1.0" fill="none"/>
<path d="M169.8,493.4L172.8,496.4L169.8,499.4L166.8,496.4Z" fill="#000"/>
<path d="M192.75,470.78L195.75,473.78L192.75,476.78L189.75,473.78Z" fill="#000"/>
<path d="M215.7,432.05L218.7,435.05L215.7,438.05L212.7,435.05Z" fill="#000"/>
<path d="M238.65,409.08L241.65,412.08L238.65,415.08L235.65,412.08Z" fill="#000"/>
<path d="M261.6,392.97L264.6,395.97L261.6,398.97L258.6,395.97Z" fill="#000"/>
<path d="M284.55,382.01L287.55,385.01L284.55,388.01L281.55,385.01Z" fill="#000"/>
<path d="M307.5,377.21L310.5,380.21L307.5,383.21L304.5,380.21Z" fill="#000"/>
<path d="M330.45,375.84L333.45,378.84L330.45,381.84L327.45,378.84Z" fill="#000"/>
<path d="M353.4,375.84L356.4,378.84L353.4,381.84L350.4,378.84Z" fill="#000"/>
<path d="M376.35,375.84L379.35,378.84L376.35,381.84L373.35,378.84Z" fill="#000"/>
<path d="M399.3,375.84L402.3,378.84L399.3,381.84L396.3,378.84Z" fill="#000"/>
<rect x="166.95" y="493.55" width="5.7" height="5.7" fill="#000"/>
<rect x="189.9" y="488.75" width="5.7" height="5.7" fill="#000"/>
<rect x="212.85" y="478.47" width="5.7" height="5.7" fill="#000"/>
<rect x="235.8" y="470.93" width="5.7" height="5.7" fill="#000"/>
<rect x="258.75" y="460.99" width="5.7" height="5.7" fill="#000"/>
<rect x="281.7" y="454.82" width="5.7" height="5.7" fill="#000"/>
<rect x="304.65" y="451.73" width="5.7" height="5.7" fill="#000"/>
<rect x="327.6" y="449.34" width="5.7" height="5.7" fill="#000"/>
<rect x="350.55" y="447.62" width="5.7" height="5.7" fill="#000"/>
<rect x="373.5" y="445.22" width="5.7" height="5.7" fill="#000"/>
<rect x="396.45" y="444.19" width="5.7" height="5.7" fill="#000"/>
<path d="M169.8,493.2L172.8,498.8L166.8,498.8Z" fill="#000"/>
<path d="M192.75,480.86L195.75,486.46L189.75,486.46Z" fill="#000"/>
<path d="M215.7,442.82L218.7,448.42L212.7,448.42Z" fill="#000"/>
<path d="M238.65,417.11L241.65,422.71L235.65,422.71Z" fill="#000"/>
<path d="M261.6,399.29L264.6,404.89L258.6,404.89Z" fill="#000"/>
<path d="M284.55,392.09L287.55,397.69L281.55,397.69Z" fill="#000"/>
<path d="M307.5,389.35L310.5,394.95L304.5,394.95Z" fill="#000"/>
<path d="M330.45,387.29L333.45,392.89L327.45,392.89Z" fill="#000"/>
<path d="M353.4,387.29L356.4,392.89L350.4,392.89Z" fill="#000"/>
<path d="M376.35,387.29L379.35,392.89L373.35,392.89Z" fill="#000"/>
<path d="M399.3,386.26L402.3,391.86L396.3,391.86Z" fill="#000"/>
<circle cx="169.8" cy="496.4" r="2.8" fill="#000"/>
<circle cx="192.75" cy="486.8" r="2.8" fill="#000"/>
<circle cx="215.7" cy="449.44" r="2.8" fill="#000"/>
<circle cx="238.65" cy="424.42" r="2.8" fill="#000"/>
<circle cx="261.6" cy="406.6" r="2.8" fill="#000"/>
<circle cx="284.55" cy="404.54" r="2.8" fill="#000"/>
<circle cx="307.5" cy="404.54" r="2.8" fill="#000"/>
<circle cx="330.45" cy="403.86" r="2.8" fill="#000"/>
<circle cx="353.4" cy="402.49" r="2.8" fill="#000"/>
<circle cx="376.35" cy="402.49" r="2.8" fill="#000"/>
<circle cx="399.3" cy="404.54" r="2.8" fill="#000"/>
<rect x="46" y="10.8" width="107.6" height="41.2" fill="#fff"/>
<path d="M51.3,17.9H55.5M60.7,17.9H64.9" stroke="#3c3c3c" stroke-width="2.0"/>
<rect x="55.86" y="15.66" width="4.48" height="4.48" fill="#fff"/><path d="M56.31,16.11L59.89,19.69M56.31,19.69L59.89,16.11" stroke="#111" stroke-width="0.85" fill="none"/>
<text x="66.5" y="19.85" style="font-family:'Liberation Serif',serif;font-style:italic;font-size:5.9px" fill="#505050">25°C HA swolen by water</text>
<line x1="51.3" y1="25.2" x2="64.9" y2="25.2" stroke="#b2b2b2" stroke-width="1.25"/>
<path d="M58.1,22.8L60.5,25.2L58.1,27.6L55.7,25.2Z" fill="#000"/>
<text x="66.5" y="27.15" style="font-family:'Liberation Serif',serif;font-style:italic;font-size:5.9px" fill="#505050">25°C HA swolen by KI solution</text>
<line x1="51.3" y1="32.5" x2="64.9" y2="32.5" stroke="#2a2a2a" stroke-width="1.5"/>
<rect x="55.82" y="30.22" width="4.56" height="4.56" fill="#000"/>
<text x="66.5" y="34.45" style="font-family:'Liberation Serif',serif;font-style:italic;font-size:5.9px" fill="#505050">25°C HA swolen by KF solution</text>
<line x1="51.3" y1="39.8" x2="64.9" y2="39.8" stroke="#575757" stroke-width="1.5"/>
<path d="M58.1,37.24L60.5,41.72L55.7,41.72Z" fill="#000"/>
<text x="66.5" y="41.75" style="font-family:'Liberation Serif',serif;font-style:italic;font-size:5.9px" fill="#505050">25°C HA swolen by MgCl2 solution</text>
<line x1="51.3" y1="47.1" x2="64.9" y2="47.1" stroke="#a8a8a8" stroke-width="1.4"/>
<circle cx="58.1" cy="47.1" r="2.24" fill="#000"/>
<text x="66.5" y="49.05" style="font-family:'Liberation Serif',serif;font-style:italic;font-size:5.9px" fill="#505050">25°C HA swolen by NaCl solution</text>
<rect x="153.6" y="10.8" width="93.5" height="16.6" fill="#fff"/>
<text x="157" y="23.11" style="font-family:'Liberation Serif',serif;font-style:italic;font-size:8.2px" fill="#4a4a4a">Ionic strength I=0.1mol.L<tspan dy="-3" style="font-size:4.1px">-1</tspan></text>
<rect x="299" y="10.8" width="107.6" height="41.2" fill="#fff"/>
<path d="M302.7,17.5H306.9M312.7,17.5H316.9" stroke="#3c3c3c" stroke-width="2.0"/>
<rect x="307.56" y="15.26" width="4.48" height="4.48" fill="#fff"/><path d="M308.01,15.71L311.59,19.29M308.01,19.29L311.59,15.71" stroke="#111" stroke-width="0.85" fill="none"/>
<text x="318.5" y="19.45" style="font-family:'Liberation Serif',serif;font-style:italic;font-size:5.9px" fill="#505050">30°C HA swolen by water</text>
<line x1="302.7" y1="24.8" x2="316.9" y2="24.8" stroke="#b2b2b2" stroke-width="1.25"/>
<path d="M309.8,22.4L312.2,24.8L309.8,27.2L307.4,24.8Z" fill="#000"/>
<text x="318.5" y="26.75" style="font-family:'Liberation Serif',serif;font-style:italic;font-size:5.9px" fill="#505050">30°C HA swolen by KI solution</text>
<line x1="302.7" y1="32.1" x2="316.9" y2="32.1" stroke="#2a2a2a" stroke-width="1.5"/>
<rect x="307.52" y="29.82" width="4.56" height="4.56" fill="#000"/>
<text x="318.5" y="34.05" style="font-family:'Liberation Serif',serif;font-style:italic;font-size:5.9px" fill="#505050">30°C HA swolen by KF solution</text>
<line x1="302.7" y1="39.4" x2="316.9" y2="39.4" stroke="#575757" stroke-width="1.5"/>
<path d="M309.8,36.84L312.2,41.32L307.4,41.32Z" fill="#000"/>
<text x="318.5" y="41.35" style="font-family:'Liberation Serif',serif;font-style:italic;font-size:5.9px" fill="#505050">30°C HA swolen by MgCl2 solution</text>
<line x1="302.7" y1="46.7" x2="316.9" y2="46.7" stroke="#a8a8a8" stroke-width="1.4"/>
<circle cx="309.8" cy="46.7" r="2.24" fill="#000"/>
<text x="318.5" y="48.65" style="font-family:'Liberation Serif',serif;font-style:italic;font-size:5.9px" fill="#505050">30°C HA swolen by NaCl solution</text>
<rect x="405.5" y="10.8" width="92" height="16.6" fill="#fff"/>
<text x="408.5" y="22.91" style="font-family:'Liberation Serif',serif;font-style:italic;font-size:8.2px" fill="#4a4a4a">Ionic strength I=0.1mol.L<tspan dy="-3" style="font-size:4.1px">-1</tspan></text>
<rect x="46.5" y="170.7" width="104.5" height="42" fill="#fff"/>
<path d="M52.7,175.9H56.9M61.8,175.9H66" stroke="#3c3c3c" stroke-width="2.0"/>
<rect x="57.11" y="173.66" width="4.48" height="4.48" fill="#fff"/><path d="M57.56,174.11L61.14,177.69M57.56,177.69L61.14,174.11" stroke="#111" stroke-width="0.85" fill="none"/>
<text x="68.2" y="177.85" style="font-family:'Liberation Serif',serif;font-style:italic;font-size:5.9px" fill="#505050">37°C HA swolen by water</text>
<line x1="52.7" y1="183.45" x2="66" y2="183.45" stroke="#b2b2b2" stroke-width="1.25"/>
<path d="M59.35,181.05L61.75,183.45L59.35,185.85L56.95,183.45Z" fill="#000"/>
<text x="68.2" y="185.4" style="font-family:'Liberation Serif',serif;font-style:italic;font-size:5.9px" fill="#505050">37°C HA swolen by KI solution</text>
<line x1="52.7" y1="191" x2="66" y2="191" stroke="#2a2a2a" stroke-width="1.5"/>
<rect x="57.07" y="188.72" width="4.56" height="4.56" fill="#000"/>
<text x="68.2" y="192.95" style="font-family:'Liberation Serif',serif;font-style:italic;font-size:5.9px" fill="#505050">37°C HA swolen by KF solution</text>
<line x1="52.7" y1="198.55" x2="66" y2="198.55" stroke="#575757" stroke-width="1.5"/>
<path d="M59.35,195.99L61.75,200.47L56.95,200.47Z" fill="#000"/>
<text x="68.2" y="200.5" style="font-family:'Liberation Serif',serif;font-style:italic;font-size:5.9px" fill="#505050">37°C HA swolen by MgCl2 solution</text>
<line x1="52.7" y1="206.1" x2="66" y2="206.1" stroke="#a8a8a8" stroke-width="1.4"/>
<circle cx="59.35" cy="206.1" r="2.24" fill="#000"/>
<text x="68.2" y="208.05" style="font-family:'Liberation Serif',serif;font-style:italic;font-size:5.9px" fill="#505050">37°C HA swolen by NaCl solution</text>
<rect x="151" y="170.8" width="92.5" height="17.3" fill="#fff"/>
<text x="156.3" y="182.41" style="font-family:'Liberation Serif',serif;font-style:italic;font-size:8.2px" fill="#4a4a4a">Ionic strength I=0.1mol.L<tspan dy="-3" style="font-size:4.1px">-1</tspan></text>
<rect x="298.5" y="170.7" width="106" height="42" fill="#fff"/>
<path d="M302.5,176.2H306.7M312.2,176.2H316.4" stroke="#3c3c3c" stroke-width="2.0"/>
<rect x="307.21" y="173.96" width="4.48" height="4.48" fill="#fff"/><path d="M307.66,174.41L311.24,177.99M307.66,177.99L311.24,174.41" stroke="#111" stroke-width="0.85" fill="none"/>
<text x="318" y="178.15" style="font-family:'Liberation Serif',serif;font-style:italic;font-size:5.9px" fill="#505050">40°C HA swolen by water</text>
<line x1="302.5" y1="183.7" x2="316.4" y2="183.7" stroke="#b2b2b2" stroke-width="1.25"/>
<path d="M309.45,181.3L311.85,183.7L309.45,186.1L307.05,183.7Z" fill="#000"/>
<text x="318" y="185.65" style="font-family:'Liberation Serif',serif;font-style:italic;font-size:5.9px" fill="#505050">40°C HA swolen by KI solution</text>
<line x1="302.5" y1="191.2" x2="316.4" y2="191.2" stroke="#2a2a2a" stroke-width="1.5"/>
<rect x="307.17" y="188.92" width="4.56" height="4.56" fill="#000"/>
<text x="318" y="193.15" style="font-family:'Liberation Serif',serif;font-style:italic;font-size:5.9px" fill="#505050">40°C HA swolen by KF solution</text>
<line x1="302.5" y1="198.7" x2="316.4" y2="198.7" stroke="#575757" stroke-width="1.5"/>
<path d="M309.45,196.14L311.85,200.62L307.05,200.62Z" fill="#000"/>
<text x="318" y="200.65" style="font-family:'Liberation Serif',serif;font-style:italic;font-size:5.9px" fill="#505050">40°C HA swolen by MgCl2 solution</text>
<line x1="302.5" y1="206.2" x2="316.4" y2="206.2" stroke="#a8a8a8" stroke-width="1.4"/>
<circle cx="309.45" cy="206.2" r="2.24" fill="#000"/>
<text x="318" y="208.15" style="font-family:'Liberation Serif',serif;font-style:italic;font-size:5.9px" fill="#505050">40°C HA swolen by NaCl solution</text>
<rect x="405" y="170.8" width="89.5" height="17.3" fill="#fff"/>
<text x="410" y="182.31" style="font-family:'Liberation Serif',serif;font-style:italic;font-size:8.2px" fill="#4a4a4a">Ionic strength I=0.1mol.L<tspan dy="-3" style="font-size:4.1px">-1</tspan></text>
<rect x="171" y="359.8" width="101" height="29.8" fill="#fff"/>
<path d="M173.3,364.8H177.5M182.7,364.8H186.9" stroke="#3c3c3c" stroke-width="2.0"/>
<rect x="178.28" y="362.98" width="3.64" height="3.64" fill="#fff"/><path d="M178.64,363.34L181.56,366.26M178.64,366.26L181.56,363.34" stroke="#111" stroke-width="0.85" fill="none"/>
<text x="188.8" y="366.75" style="font-family:'Liberation Serif',serif;font-style:italic;font-size:5.9px" fill="#505050">45°C HA swolen by water</text>
<line x1="173.3" y1="370.25" x2="186.9" y2="370.25" stroke="#b2b2b2" stroke-width="1.25"/>
<path d="M180.1,368.3L182.05,370.25L180.1,372.2L178.15,370.25Z" fill="#000"/>
<text x="188.8" y="372.2" style="font-family:'Liberation Serif',serif;font-style:italic;font-size:5.9px" fill="#505050">45°C HA swolen by KI solution</text>
<line x1="173.3" y1="375.7" x2="186.9" y2="375.7" stroke="#2a2a2a" stroke-width="1.5"/>
<rect x="178.25" y="373.85" width="3.71" height="3.71" fill="#000"/>
<text x="188.8" y="377.65" style="font-family:'Liberation Serif',serif;font-style:italic;font-size:5.9px" fill="#505050">45°C HA swolen by KF solution</text>
<line x1="173.3" y1="381.15" x2="186.9" y2="381.15" stroke="#575757" stroke-width="1.5"/>
<path d="M180.1,379.07L182.05,382.71L178.15,382.71Z" fill="#000"/>
<text x="188.8" y="383.1" style="font-family:'Liberation Serif',serif;font-style:italic;font-size:5.9px" fill="#505050">45°C HA swolen by MgCl2 solution</text>
<line x1="173.3" y1="386.6" x2="186.9" y2="386.6" stroke="#a8a8a8" stroke-width="1.4"/>
<circle cx="180.1" cy="386.6" r="1.82" fill="#000"/>
<text x="188.8" y="388.55" style="font-family:'Liberation Serif',serif;font-style:italic;font-size:5.9px" fill="#505050">45°C HA swolen by NaCl solution</text>
<rect x="264" y="359.8" width="89" height="16.1" fill="#fff"/>
<text x="266.2" y="368.81" style="font-family:'Liberation Serif',serif;font-style:italic;font-size:8.2px" fill="#4a4a4a">Ionic strength I=0.1mol.L<tspan dy="-3" style="font-size:4.1px">-1</tspan></text>
<text x="38.3" y="156" text-anchor="end" style="font-family:'Liberation Serif',serif;font-size:10px" fill="#4a4a4a" stroke="#4a4a4a" stroke-width="0.05">0</text>
<text x="38.3" y="138.38" text-anchor="end" style="font-family:'Liberation Serif',serif;font-size:10px" fill="#4a4a4a" stroke="#4a4a4a" stroke-width="0.05">0.5</text>
<text x="38.3" y="120.75" text-anchor="end" style="font-family:'Liberation Serif',serif;font-size:10px" fill="#4a4a4a" stroke="#4a4a4a" stroke-width="0.05">1.0</text>
<text x="38.3" y="103.13" text-anchor="end" style="font-family:'Liberation Serif',serif;font-size:10px" fill="#4a4a4a" stroke="#4a4a4a" stroke-width="0.05">1.5</text>
<text x="38.3" y="85.5" text-anchor="end" style="font-family:'Liberation Serif',serif;font-size:10px" fill="#4a4a4a" stroke="#4a4a4a" stroke-width="0.05">2.0</text>
<text x="38.3" y="67.88" text-anchor="end" style="font-family:'Liberation Serif',serif;font-size:10px" fill="#4a4a4a" stroke="#4a4a4a" stroke-width="0.05">2.5</text>
<text x="38.3" y="50.25" text-anchor="end" style="font-family:'Liberation Serif',serif;font-size:10px" fill="#4a4a4a" stroke="#4a4a4a" stroke-width="0.05">3.0</text>
<text x="38.3" y="32.63" text-anchor="end" style="font-family:'Liberation Serif',serif;font-size:10px" fill="#4a4a4a" stroke="#4a4a4a" stroke-width="0.05">3.5</text>
<text x="38.3" y="15" text-anchor="end" style="font-family:'Liberation Serif',serif;font-size:10px" fill="#4a4a4a" stroke="#4a4a4a" stroke-width="0.05">4.0</text>
<text x="38.3" y="312.2" text-anchor="end" style="font-family:'Liberation Serif',serif;font-size:10px" fill="#4a4a4a" stroke="#4a4a4a" stroke-width="0.05">0</text>
<text x="38.3" y="295.04" text-anchor="end" style="font-family:'Liberation Serif',serif;font-size:10px" fill="#4a4a4a" stroke="#4a4a4a" stroke-width="0.05">0.5</text>
<text x="38.3" y="277.88" text-anchor="end" style="font-family:'Liberation Serif',serif;font-size:10px" fill="#4a4a4a" stroke="#4a4a4a" stroke-width="0.05">1.0</text>
<text x="38.3" y="260.71" text-anchor="end" style="font-family:'Liberation Serif',serif;font-size:10px" fill="#4a4a4a" stroke="#4a4a4a" stroke-width="0.05">1.5</text>
<text x="38.3" y="243.55" text-anchor="end" style="font-family:'Liberation Serif',serif;font-size:10px" fill="#4a4a4a" stroke="#4a4a4a" stroke-width="0.05">2.0</text>
<text x="38.3" y="226.39" text-anchor="end" style="font-family:'Liberation Serif',serif;font-size:10px" fill="#4a4a4a" stroke="#4a4a4a" stroke-width="0.05">2.5</text>
<text x="38.3" y="209.22" text-anchor="end" style="font-family:'Liberation Serif',serif;font-size:10px" fill="#4a4a4a" stroke="#4a4a4a" stroke-width="0.05">3.0</text>
<text x="38.3" y="192.06" text-anchor="end" style="font-family:'Liberation Serif',serif;font-size:10px" fill="#4a4a4a" stroke="#4a4a4a" stroke-width="0.05">3.5</text>
<text x="38.3" y="174.9" text-anchor="end" style="font-family:'Liberation Serif',serif;font-size:10px" fill="#4a4a4a" stroke="#4a4a4a" stroke-width="0.05">4.0</text>
<text x="163" y="501.1" text-anchor="end" style="font-family:'Liberation Serif',serif;font-size:10px" fill="#4a4a4a" stroke="#4a4a4a" stroke-width="0.05">0</text>
<text x="163" y="483.96" text-anchor="end" style="font-family:'Liberation Serif',serif;font-size:10px" fill="#4a4a4a" stroke="#4a4a4a" stroke-width="0.05">0.5</text>
<text x="163" y="466.82" text-anchor="end" style="font-family:'Liberation Serif',serif;font-size:10px" fill="#4a4a4a" stroke="#4a4a4a" stroke-width="0.05">1.0</text>
<text x="163" y="449.69" text-anchor="end" style="font-family:'Liberation Serif',serif;font-size:10px" fill="#4a4a4a" stroke="#4a4a4a" stroke-width="0.05">1.5</text>
<text x="163" y="432.55" text-anchor="end" style="font-family:'Liberation Serif',serif;font-size:10px" fill="#4a4a4a" stroke="#4a4a4a" stroke-width="0.05">2.0</text>
<text x="163" y="415.41" text-anchor="end" style="font-family:'Liberation Serif',serif;font-size:10px" fill="#4a4a4a" stroke="#4a4a4a" stroke-width="0.05">2.5</text>
<text x="163" y="398.27" text-anchor="end" style="font-family:'Liberation Serif',serif;font-size:10px" fill="#4a4a4a" stroke="#4a4a4a" stroke-width="0.05">3.0</text>
<text x="163" y="381.14" text-anchor="end" style="font-family:'Liberation Serif',serif;font-size:10px" fill="#4a4a4a" stroke="#4a4a4a" stroke-width="0.05">3.5</text>
<text x="163" y="364" text-anchor="end" style="font-family:'Liberation Serif',serif;font-size:10px" fill="#4a4a4a" stroke="#4a4a4a" stroke-width="0.05">4.0</text>
<text x="43.8" y="324" text-anchor="middle" style="font-family:'Liberation Serif',serif;font-size:10px" fill="#4a4a4a" stroke="#4a4a4a" stroke-width="0.05">0</text>
<text x="66.67" y="324" text-anchor="middle" style="font-family:'Liberation Serif',serif;font-size:10px" fill="#4a4a4a" stroke="#4a4a4a" stroke-width="0.05">10</text>
<text x="89.54" y="324" text-anchor="middle" style="font-family:'Liberation Serif',serif;font-size:10px" fill="#4a4a4a" stroke="#4a4a4a" stroke-width="0.05">20</text>
<text x="112.41" y="324" text-anchor="middle" style="font-family:'Liberation Serif',serif;font-size:10px" fill="#4a4a4a" stroke="#4a4a4a" stroke-width="0.05">30</text>
<text x="135.28" y="324" text-anchor="middle" style="font-family:'Liberation Serif',serif;font-size:10px" fill="#4a4a4a" stroke="#4a4a4a" stroke-width="0.05">40</text>
<text x="158.15" y="324" text-anchor="middle" style="font-family:'Liberation Serif',serif;font-size:10px" fill="#4a4a4a" stroke="#4a4a4a" stroke-width="0.05">50</text>
<text x="181.02" y="324" text-anchor="middle" style="font-family:'Liberation Serif',serif;font-size:10px" fill="#4a4a4a" stroke="#4a4a4a" stroke-width="0.05">60</text>
<text x="203.89" y="324" text-anchor="middle" style="font-family:'Liberation Serif',serif;font-size:10px" fill="#4a4a4a" stroke="#4a4a4a" stroke-width="0.05">70</text>
<text x="226.76" y="324" text-anchor="middle" style="font-family:'Liberation Serif',serif;font-size:10px" fill="#4a4a4a" stroke="#4a4a4a" stroke-width="0.05">80</text>
<text x="249.63" y="324" text-anchor="middle" style="font-family:'Liberation Serif',serif;font-size:10px" fill="#4a4a4a" stroke="#4a4a4a" stroke-width="0.05">90</text>
<text x="272.5" y="324" text-anchor="middle" style="font-family:'Liberation Serif',serif;font-size:10px" fill="#4a4a4a" stroke="#4a4a4a" stroke-width="0.05">100</text>
<text x="295.5" y="324" text-anchor="middle" style="font-family:'Liberation Serif',serif;font-size:10px" fill="#4a4a4a" stroke="#4a4a4a" stroke-width="0.05">0</text>
<text x="318.61" y="324" text-anchor="middle" style="font-family:'Liberation Serif',serif;font-size:10px" fill="#4a4a4a" stroke="#4a4a4a" stroke-width="0.05">10</text>
<text x="341.72" y="324" text-anchor="middle" style="font-family:'Liberation Serif',serif;font-size:10px" fill="#4a4a4a" stroke="#4a4a4a" stroke-width="0.05">20</text>
<text x="364.83" y="324" text-anchor="middle" style="font-family:'Liberation Serif',serif;font-size:10px" fill="#4a4a4a" stroke="#4a4a4a" stroke-width="0.05">30</text>
<text x="387.94" y="324" text-anchor="middle" style="font-family:'Liberation Serif',serif;font-size:10px" fill="#4a4a4a" stroke="#4a4a4a" stroke-width="0.05">40</text>
<text x="411.05" y="324" text-anchor="middle" style="font-family:'Liberation Serif',serif;font-size:10px" fill="#4a4a4a" stroke="#4a4a4a" stroke-width="0.05">50</text>
<text x="434.16" y="324" text-anchor="middle" style="font-family:'Liberation Serif',serif;font-size:10px" fill="#4a4a4a" stroke="#4a4a4a" stroke-width="0.05">60</text>
<text x="457.27" y="324" text-anchor="middle" style="font-family:'Liberation Serif',serif;font-size:10px" fill="#4a4a4a" stroke="#4a4a4a" stroke-width="0.05">70</text>
<text x="480.38" y="324" text-anchor="middle" style="font-family:'Liberation Serif',serif;font-size:10px" fill="#4a4a4a" stroke="#4a4a4a" stroke-width="0.05">80</text>
<text x="503.49" y="324" text-anchor="middle" style="font-family:'Liberation Serif',serif;font-size:10px" fill="#4a4a4a" stroke="#4a4a4a" stroke-width="0.05">90</text>
<text x="526.6" y="324" text-anchor="middle" style="font-family:'Liberation Serif',serif;font-size:10px" fill="#4a4a4a" stroke="#4a4a4a" stroke-width="0.05">100</text>
<text x="169.8" y="516" text-anchor="middle" style="font-family:'Liberation Serif',serif;font-size:10px" fill="#4a4a4a" stroke="#4a4a4a" stroke-width="0.05">0</text>
<text x="192.75" y="516" text-anchor="middle" style="font-family:'Liberation Serif',serif;font-size:10px" fill="#4a4a4a" stroke="#4a4a4a" stroke-width="0.05">10</text>
<text x="215.7" y="516" text-anchor="middle" style="font-family:'Liberation Serif',serif;font-size:10px" fill="#4a4a4a" stroke="#4a4a4a" stroke-width="0.05">20</text>
<text x="238.65" y="516" text-anchor="middle" style="font-family:'Liberation Serif',serif;font-size:10px" fill="#4a4a4a" stroke="#4a4a4a" stroke-width="0.05">30</text>
<text x="261.6" y="516" text-anchor="middle" style="font-family:'Liberation Serif',serif;font-size:10px" fill="#4a4a4a" stroke="#4a4a4a" stroke-width="0.05">40</text>
<text x="284.55" y="516" text-anchor="middle" style="font-family:'Liberation Serif',serif;font-size:10px" fill="#4a4a4a" stroke="#4a4a4a" stroke-width="0.05">50</text>
<text x="307.5" y="516" text-anchor="middle" style="font-family:'Liberation Serif',serif;font-size:10px" fill="#4a4a4a" stroke="#4a4a4a" stroke-width="0.05">60</text>
<text x="330.45" y="516" text-anchor="middle" style="font-family:'Liberation Serif',serif;font-size:10px" fill="#4a4a4a" stroke="#4a4a4a" stroke-width="0.05">70</text>
<text x="353.4" y="516" text-anchor="middle" style="font-family:'Liberation Serif',serif;font-size:10px" fill="#4a4a4a" stroke="#4a4a4a" stroke-width="0.05">80</text>
<text x="376.35" y="516" text-anchor="middle" style="font-family:'Liberation Serif',serif;font-size:10px" fill="#4a4a4a" stroke="#4a4a4a" stroke-width="0.05">90</text>
<text x="399.3" y="516" text-anchor="middle" style="font-family:'Liberation Serif',serif;font-size:10px" fill="#4a4a4a" stroke="#4a4a4a" stroke-width="0.05">100</text>
<text transform="translate(19.8,71.6) rotate(-90)" text-anchor="middle" style="font-family:'Liberation Serif',serif;font-size:11.3px" fill="#303030" stroke="#303030" stroke-width="0.1"><tspan font-style="italic">D</tspan>(<tspan font-style="italic">c</tspan>)x10<tspan dy="-4" font-size="5.65">9</tspan><tspan dy="4"> [m</tspan><tspan dy="-4" font-size="5.65">2</tspan><tspan dy="4">.s</tspan><tspan dy="-4" font-size="5.65">-1</tspan><tspan dy="4">]</tspan></text>
<text transform="translate(19.6,229.8) rotate(-90)" text-anchor="middle" style="font-family:'Liberation Serif',serif;font-size:11.3px" fill="#303030" stroke="#303030" stroke-width="0.1"><tspan font-style="italic">D</tspan>(<tspan font-style="italic">c</tspan>)x10<tspan dy="-4" font-size="5.65">9</tspan><tspan dy="4"> [m</tspan><tspan dy="-4" font-size="5.65">2</tspan><tspan dy="4">.s</tspan><tspan dy="-4" font-size="5.65">-1</tspan><tspan dy="4">]</tspan></text>
<text transform="translate(143.5,423.4) rotate(-90)" text-anchor="middle" style="font-family:'Liberation Serif',serif;font-size:11.3px" fill="#303030" stroke="#303030" stroke-width="0.1"><tspan font-style="italic">D</tspan>(<tspan font-style="italic">c</tspan>)x10<tspan dy="-4" font-size="5.65">9</tspan><tspan dy="4"> [m</tspan><tspan dy="-4" font-size="5.65">2</tspan><tspan dy="4">.s</tspan><tspan dy="-4" font-size="5.65">-1</tspan><tspan dy="4">]</tspan></text>
<text x="160" y="336.8" text-anchor="middle" style="font-family:'Liberation Serif',serif;font-size:9.5px;font-weight:bold" fill="#222">volume fraction of polymer [%]</text>
<text x="408.4" y="336.8" text-anchor="middle" style="font-family:'Liberation Serif',serif;font-size:9.5px;font-weight:bold" fill="#222">volume fraction of polymer [%]</text>
<text x="286.4" y="527.3" text-anchor="middle" style="font-family:'Liberation Serif',serif;font-size:9.5px;font-weight:bold" fill="#222">volume fraction of polymer [%]</text>
</svg>
</body></html>
